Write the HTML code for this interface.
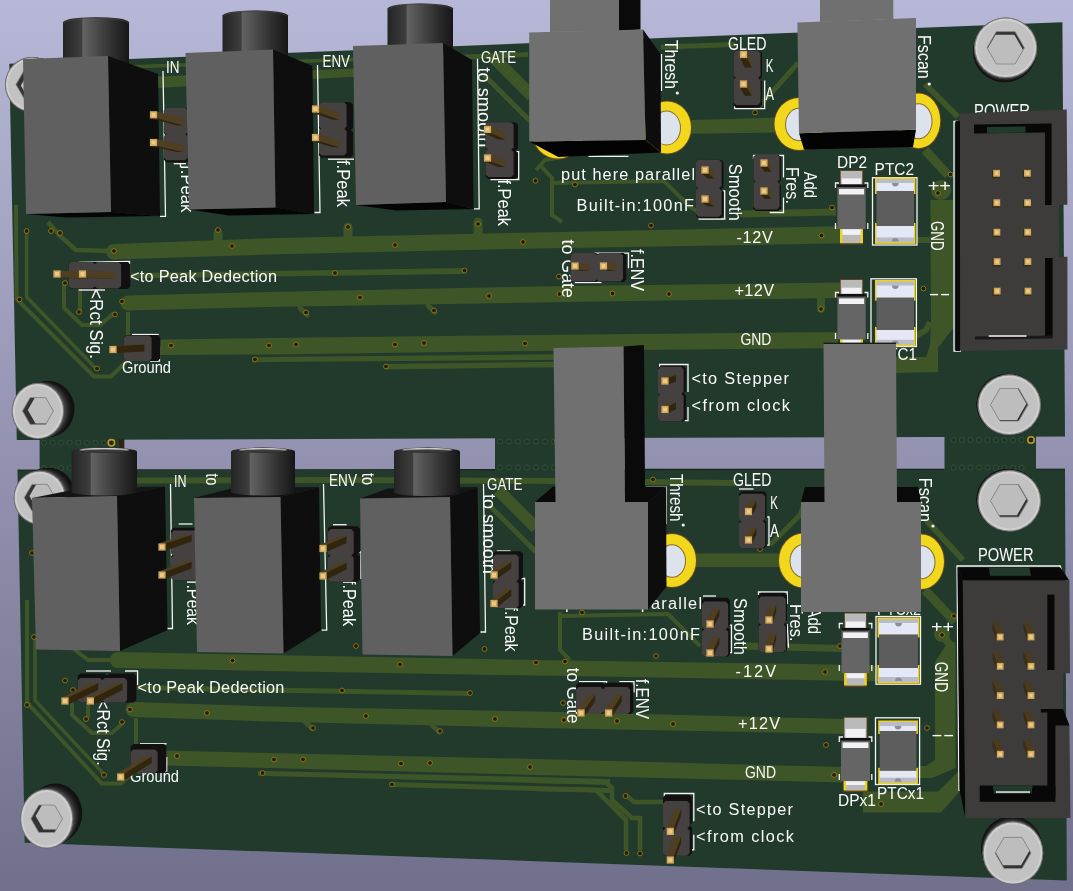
<!DOCTYPE html>
<html lang="en"><head><meta charset="utf-8"><title>PCB 3D view</title>
<style>
html,body{margin:0;padding:0;background:#8a8aaa;}
body{width:1073px;height:891px;overflow:hidden;}
svg{display:block;will-change:transform;}
svg text{font-family:"Liberation Sans","DejaVu Sans",sans-serif;fill:#fbfbfb;}
</style></head><body>
<svg width="1073" height="891" viewBox="0 0 1073 891">
<defs>
<linearGradient id="bg" x1="0" y1="0" x2="0" y2="1"><stop offset="0" stop-color="#b7b7d7"/><stop offset="1" stop-color="#70708c"/></linearGradient>
<linearGradient id="cyl" x1="0" y1="0" x2="1" y2="0"><stop offset="0" stop-color="#242424"/><stop offset="0.285" stop-color="#3e3e3e"/><stop offset="0.30" stop-color="#636363"/><stop offset="0.5" stop-color="#4c4c4c"/><stop offset="0.75" stop-color="#2f2f2f"/><stop offset="1" stop-color="#161616"/></linearGradient>
<linearGradient id="cyltop" x1="0" y1="0" x2="0" y2="1"><stop offset="0" stop-color="#e0e0e0"/><stop offset="0.45" stop-color="#9a9a9a"/><stop offset="1" stop-color="#3a3a3a"/></linearGradient>
<radialGradient id="scr" cx="0.5" cy="0.5" r="0.5"><stop offset="0" stop-color="#c0c0c0"/><stop offset="0.85" stop-color="#b4b4b4"/><stop offset="1" stop-color="#9a9a9a"/></radialGradient>
</defs>
<rect width="1073" height="891" fill="url(#bg)"/>
<polygon points="9.3,63.8 1062.4,22.2 1065.0,436.5 16.8,440.0" fill="#213a2c" />
<polygon points="17.5,470.5 1065.0,469.5 1066.8,880.5 24.7,842.8" fill="#213a2c" />
<rect x="39.6" y="438.0" width="78.6" height="34.0" fill="#213a2c" />
<rect x="118.2" y="439.0" width="6.1" height="31.3" fill="#2b2614" />
<rect x="495.0" y="437.0" width="115.0" height="34.0" fill="#213a2c" />
<rect x="944.5" y="435.0" width="91.5" height="36.0" fill="#213a2c" />
<polyline points="17.5,470.2 39.6,470.2" fill="none" stroke="#1a2619" stroke-width="1.3" />
<polyline points="124.3,470.0 495.0,469.6" fill="none" stroke="#1a2619" stroke-width="1.3" />
<polyline points="645.0,469.5 944.5,469.3" fill="none" stroke="#1a2619" stroke-width="1.3" />
<polyline points="1036.0,469.3 1065.0,469.3" fill="none" stroke="#1a2619" stroke-width="1.3" />
<circle cx="44.0" cy="442.8" r="2.6" fill="#1d3627" stroke="#33523a" stroke-width="0.9"/>
<circle cx="52.6" cy="442.8" r="2.6" fill="#1d3627" stroke="#33523a" stroke-width="0.9"/>
<circle cx="61.1" cy="442.8" r="2.6" fill="#1d3627" stroke="#33523a" stroke-width="0.9"/>
<circle cx="69.7" cy="442.8" r="2.6" fill="#1d3627" stroke="#33523a" stroke-width="0.9"/>
<circle cx="78.3" cy="442.8" r="2.6" fill="#1d3627" stroke="#33523a" stroke-width="0.9"/>
<circle cx="86.9" cy="442.8" r="2.6" fill="#1d3627" stroke="#33523a" stroke-width="0.9"/>
<circle cx="95.4" cy="442.8" r="2.6" fill="#1d3627" stroke="#33523a" stroke-width="0.9"/>
<circle cx="104.0" cy="442.8" r="2.6" fill="#1d3627" stroke="#33523a" stroke-width="0.9"/>
<circle cx="44.0" cy="468.0" r="2.6" fill="#1d3627" stroke="#33523a" stroke-width="0.9"/>
<circle cx="52.6" cy="468.0" r="2.6" fill="#1d3627" stroke="#33523a" stroke-width="0.9"/>
<circle cx="61.1" cy="468.0" r="2.6" fill="#1d3627" stroke="#33523a" stroke-width="0.9"/>
<circle cx="69.7" cy="468.0" r="2.6" fill="#1d3627" stroke="#33523a" stroke-width="0.9"/>
<circle cx="78.3" cy="468.0" r="2.6" fill="#1d3627" stroke="#33523a" stroke-width="0.9"/>
<circle cx="86.9" cy="468.0" r="2.6" fill="#1d3627" stroke="#33523a" stroke-width="0.9"/>
<circle cx="95.4" cy="468.0" r="2.6" fill="#1d3627" stroke="#33523a" stroke-width="0.9"/>
<circle cx="104.0" cy="468.0" r="2.6" fill="#1d3627" stroke="#33523a" stroke-width="0.9"/>
<circle cx="500.0" cy="441.5" r="2.6" fill="#1d3627" stroke="#33523a" stroke-width="0.9"/>
<circle cx="509.0" cy="441.5" r="2.6" fill="#1d3627" stroke="#33523a" stroke-width="0.9"/>
<circle cx="518.0" cy="441.5" r="2.6" fill="#1d3627" stroke="#33523a" stroke-width="0.9"/>
<circle cx="527.0" cy="441.5" r="2.6" fill="#1d3627" stroke="#33523a" stroke-width="0.9"/>
<circle cx="536.0" cy="441.5" r="2.6" fill="#1d3627" stroke="#33523a" stroke-width="0.9"/>
<circle cx="545.0" cy="441.5" r="2.6" fill="#1d3627" stroke="#33523a" stroke-width="0.9"/>
<circle cx="554.0" cy="441.5" r="2.6" fill="#1d3627" stroke="#33523a" stroke-width="0.9"/>
<circle cx="500.0" cy="467.5" r="2.6" fill="#1d3627" stroke="#33523a" stroke-width="0.9"/>
<circle cx="509.0" cy="467.5" r="2.6" fill="#1d3627" stroke="#33523a" stroke-width="0.9"/>
<circle cx="518.0" cy="467.5" r="2.6" fill="#1d3627" stroke="#33523a" stroke-width="0.9"/>
<circle cx="527.0" cy="467.5" r="2.6" fill="#1d3627" stroke="#33523a" stroke-width="0.9"/>
<circle cx="536.0" cy="467.5" r="2.6" fill="#1d3627" stroke="#33523a" stroke-width="0.9"/>
<circle cx="545.0" cy="467.5" r="2.6" fill="#1d3627" stroke="#33523a" stroke-width="0.9"/>
<circle cx="554.0" cy="467.5" r="2.6" fill="#1d3627" stroke="#33523a" stroke-width="0.9"/>
<circle cx="953.5" cy="440.0" r="2.6" fill="#1d3627" stroke="#33523a" stroke-width="0.9"/>
<circle cx="962.0" cy="440.0" r="2.6" fill="#1d3627" stroke="#33523a" stroke-width="0.9"/>
<circle cx="970.5" cy="440.0" r="2.6" fill="#1d3627" stroke="#33523a" stroke-width="0.9"/>
<circle cx="979.0" cy="440.0" r="2.6" fill="#1d3627" stroke="#33523a" stroke-width="0.9"/>
<circle cx="987.5" cy="440.0" r="2.6" fill="#1d3627" stroke="#33523a" stroke-width="0.9"/>
<circle cx="996.0" cy="440.0" r="2.6" fill="#1d3627" stroke="#33523a" stroke-width="0.9"/>
<circle cx="1004.5" cy="440.0" r="2.6" fill="#1d3627" stroke="#33523a" stroke-width="0.9"/>
<circle cx="1013.0" cy="440.0" r="2.6" fill="#1d3627" stroke="#33523a" stroke-width="0.9"/>
<circle cx="1021.5" cy="440.0" r="2.6" fill="#1d3627" stroke="#33523a" stroke-width="0.9"/>
<circle cx="953.5" cy="467.7" r="2.6" fill="#1d3627" stroke="#33523a" stroke-width="0.9"/>
<circle cx="962.0" cy="467.7" r="2.6" fill="#1d3627" stroke="#33523a" stroke-width="0.9"/>
<circle cx="970.5" cy="467.7" r="2.6" fill="#1d3627" stroke="#33523a" stroke-width="0.9"/>
<circle cx="979.0" cy="467.7" r="2.6" fill="#1d3627" stroke="#33523a" stroke-width="0.9"/>
<circle cx="987.5" cy="467.7" r="2.6" fill="#1d3627" stroke="#33523a" stroke-width="0.9"/>
<circle cx="996.0" cy="467.7" r="2.6" fill="#1d3627" stroke="#33523a" stroke-width="0.9"/>
<circle cx="1004.5" cy="467.7" r="2.6" fill="#1d3627" stroke="#33523a" stroke-width="0.9"/>
<circle cx="1013.0" cy="467.7" r="2.6" fill="#1d3627" stroke="#33523a" stroke-width="0.9"/>
<circle cx="1021.5" cy="467.7" r="2.6" fill="#1d3627" stroke="#33523a" stroke-width="0.9"/>
<polygon points="114.0,244.0 268.0,238.2 536.0,232.5 804.0,227.0 842.0,226.3 842.0,243.3 804.0,244.0 536.0,248.5 268.0,254.5 114.0,259.5" fill="#3e5528" />
<circle cx="114" cy="251.7" r="7.8" fill="#3e5528"/>
<polygon points="130.0,273.0 268.0,271.0 465.5,268.0 465.5,274.0 268.0,276.5 130.0,278.6" fill="#3e5528" />
<polygon points="128.0,295.5 268.0,292.0 536.0,286.5 804.0,283.0 842.0,282.5 842.0,298.0 804.0,298.5 536.0,302.5 268.0,307.0 128.0,310.5" fill="#3e5528" />
<circle cx="128" cy="303" r="7.5" fill="#3e5528"/>
<polygon points="160.0,339.5 268.0,338.0 536.0,335.0 804.0,332.3 838.0,332.0 838.0,348.0 804.0,348.5 536.0,351.0 268.0,354.5 160.0,355.0" fill="#3e5528" />
<polygon points="252.0,357.2 268.0,357.0 536.0,354.5 560.0,354.2 560.0,359.8 536.0,360.0 268.0,362.0 252.0,362.2" fill="#3e5528" />
<polygon points="385.5,364.0 536.0,362.0 560.0,361.8 560.0,367.3 536.0,367.5 385.5,369.5" fill="#3e5528" />
<polyline points="218.0,233.0 218.0,243.0" fill="none" stroke="#3e5528" stroke-width="9.0" stroke-linecap="round"/>
<polyline points="348.0,227.0 348.0,240.0" fill="none" stroke="#3e5528" stroke-width="9.0" stroke-linecap="round"/>
<polyline points="478.0,222.0 478.0,236.0" fill="none" stroke="#3e5528" stroke-width="9.0" stroke-linecap="round"/>
<polyline points="300.0,308.0 307.0,315.0" fill="none" stroke="#3e5528" stroke-width="5.0" stroke-linecap="round"/>
<polyline points="428.0,305.5 435.0,312.5" fill="none" stroke="#3e5528" stroke-width="5.0" stroke-linecap="round"/>
<polyline points="48.0,222.0 60.0,236.0 76.0,250.0 110.0,251.0" fill="none" stroke="#3e5528" stroke-width="4.5" />
<polyline points="16.0,205.0 16.5,299.0 94.0,376.5 111.0,376.5 128.0,360.0 128.0,312.0" fill="none" stroke="#3e5528" stroke-width="4.0" />
<polyline points="26.6,232.0 26.6,297.0 96.0,368.5" fill="none" stroke="#3e5528" stroke-width="3.5" />
<polyline points="64.0,285.0 64.0,308.0 82.0,325.0 100.0,325.0 114.0,313.0" fill="none" stroke="#3e5528" stroke-width="4.0" />
<polyline points="80.0,288.0 80.0,312.0" fill="none" stroke="#3e5528" stroke-width="4.0" />
<polygon points="130.0,65.0 330.0,58.5 480.0,54.0 528.0,52.0 528.0,57.0 480.0,59.0 330.0,62.0 130.0,68.5" fill="#3e5528" />
<polygon points="158.0,76.5 330.0,69.5 360.0,68.3 360.0,76.5 330.0,78.0 158.0,88.0" fill="#3e5528" />
<polyline points="661.0,47.0 735.0,44.5" fill="none" stroke="#3e5528" stroke-width="5.0" />
<polyline points="492.0,56.0 532.0,96.0" fill="none" stroke="#3e5528" stroke-width="12.0" />
<polyline points="484.0,75.0 532.0,123.0" fill="none" stroke="#3e5528" stroke-width="5.0" />
<polyline points="758.0,108.0 798.0,63.0" fill="none" stroke="#3e5528" stroke-width="5.0" />
<polygon points="691.0,120.0 779.0,117.5 779.0,132.5 691.0,133.8" fill="#3e5528" />
<polyline points="925.0,84.0 958.0,117.0" fill="none" stroke="#3e5528" stroke-width="6.0" />
<polyline points="925.0,150.0 948.0,175.0" fill="none" stroke="#3e5528" stroke-width="9.0" />
<polyline points="540.0,165.0 552.0,178.0 552.0,215.0 562.0,222.0" fill="none" stroke="#3e5528" stroke-width="4.0" />
<polyline points="552.0,183.0 664.0,181.0 690.0,207.0 700.0,213.0" fill="none" stroke="#3e5528" stroke-width="4.0" />
<polyline points="536.0,170.0 545.0,160.0 562.0,157.0" fill="none" stroke="#3e5528" stroke-width="4.0" />
<polygon points="740.0,210.5 836.0,208.5 836.0,215.5 740.0,217.5" fill="#3e5528" />
<circle cx="941" cy="190" r="10" fill="#3e5528"/>
<polygon points="930.4,200.0 953.3,200.0 953.3,328.0 938.0,348.0 938.0,372.0 896.0,373.0 896.0,357.0 926.0,357.0 930.0,345.0 931.0,322.0" fill="#3e5528" />
<polyline points="916.0,336.0 926.0,330.0 930.0,322.0" fill="none" stroke="#3e5528" stroke-width="6.0" />
<polyline points="917.0,240.0 931.0,240.0" fill="none" stroke="#3e5528" stroke-width="6.0" />
<polyline points="821.0,299.0 821.0,309.0" fill="none" stroke="#3e5528" stroke-width="8.0" stroke-linecap="round"/>
<polygon points="118.0,652.0 268.0,655.0 536.0,660.0 804.0,664.0 880.0,665.5 880.0,681.5 804.0,680.0 536.0,675.6 268.0,671.0 118.0,668.0" fill="#3e5528" />
<circle cx="118" cy="660" r="8" fill="#3e5528"/>
<polygon points="137.0,685.0 268.0,687.5 470.0,691.0 470.0,696.0 268.0,692.5 137.0,690.0" fill="#3e5528" />
<polygon points="133.0,702.0 268.0,706.4 536.0,711.5 804.0,718.0 845.0,719.0 845.0,734.0 804.0,733.0 536.0,728.0 268.0,721.5 133.0,717.0" fill="#3e5528" />
<circle cx="133" cy="709.5" r="7.5" fill="#3e5528"/>
<polygon points="166.0,750.5 268.0,753.0 536.0,759.0 804.0,766.0 842.0,767.0 842.0,782.6 804.0,781.6 536.0,775.0 268.0,768.0 166.0,765.5" fill="#3e5528" />
<polygon points="258.0,770.8 268.0,771.0 536.0,777.0 610.0,779.0 610.0,785.0 536.0,783.0 268.0,776.0 258.0,775.8" fill="#3e5528" />
<polygon points="392.0,782.0 536.0,786.0 610.0,788.0 610.0,793.0 536.0,791.0 392.0,787.0" fill="#3e5528" />
<polyline points="305.0,721.5 312.0,728.5" fill="none" stroke="#3e5528" stroke-width="5.0" stroke-linecap="round"/>
<polyline points="432.0,725.0 439.0,732.0" fill="none" stroke="#3e5528" stroke-width="5.0" stroke-linecap="round"/>
<polyline points="27.0,600.0 27.0,702.5 101.7,783.5 121.0,783.5 136.0,770.0 136.0,718.0" fill="none" stroke="#3e5528" stroke-width="4.0" />
<polyline points="35.0,638.5 35.0,700.4 105.0,775.4" fill="none" stroke="#3e5528" stroke-width="3.5" />
<polyline points="72.0,700.0 72.0,715.0 92.0,733.0 112.0,733.0 124.0,722.0" fill="none" stroke="#3e5528" stroke-width="4.0" />
<polyline points="88.0,702.0 88.0,718.0" fill="none" stroke="#3e5528" stroke-width="4.0" />
<polyline points="70.0,646.0 88.0,660.0 116.0,660.0" fill="none" stroke="#3e5528" stroke-width="4.0" />
<polygon points="696.0,553.5 779.0,553.5 779.0,567.0 696.0,567.0" fill="#3e5528" />
<polygon points="137.0,477.5 330.0,477.0 553.0,478.0 735.0,480.0 735.0,486.0 553.0,484.0 330.0,483.0 137.0,483.5" fill="#3e5528" />
<polyline points="498.0,490.0 536.0,528.0" fill="none" stroke="#3e5528" stroke-width="12.0" />
<polyline points="489.0,505.0 536.0,552.0" fill="none" stroke="#3e5528" stroke-width="5.0" />
<polyline points="770.0,545.0 800.0,515.0 804.0,505.0" fill="none" stroke="#3e5528" stroke-width="5.0" />
<polyline points="926.0,520.0 963.0,560.0" fill="none" stroke="#3e5528" stroke-width="6.0" />
<polyline points="925.0,590.0 955.0,622.0" fill="none" stroke="#3e5528" stroke-width="9.0" />
<polyline points="560.0,612.0 560.0,650.0 570.0,660.0" fill="none" stroke="#3e5528" stroke-width="4.0" />
<polyline points="560.0,616.0 668.0,614.0 700.0,646.0" fill="none" stroke="#3e5528" stroke-width="4.0" />
<polygon points="745.0,642.5 842.0,645.0 842.0,652.0 745.0,649.5" fill="#3e5528" />
<polygon points="935.0,662.0 948.0,642.0 955.5,642.0 955.5,768.0 932.0,778.0 918.0,778.0 918.0,766.0 926.0,766.0 935.0,760.0" fill="#3e5528" />
<circle cx="942" cy="634" r="8" fill="#3e5528"/>
<polyline points="942.0,634.0 952.0,648.0" fill="none" stroke="#3e5528" stroke-width="8.0" />
<polygon points="863.0,791.5 938.0,791.5 960.0,770.0 960.0,791.0 941.0,812.5 863.0,812.5" fill="#3e5528" />
<polyline points="536.0,781.0 606.0,782.0 612.0,788.0 612.0,800.0 632.0,818.0 640.0,818.0 640.0,850.0" fill="none" stroke="#3e5528" stroke-width="4.6" />
<polyline points="536.0,789.0 596.0,790.0 626.0,820.0 626.0,850.0" fill="none" stroke="#3e5528" stroke-width="4.6" />
<polyline points="626.0,795.0 634.0,802.0 663.0,802.0" fill="none" stroke="#3e5528" stroke-width="4.6" />
<circle cx="26.6" cy="231.0" r="2.4" fill="#241b08" stroke="#a58c18" stroke-width="0.75"/>
<circle cx="51.0" cy="231.0" r="2.4" fill="#241b08" stroke="#a58c18" stroke-width="0.75"/>
<circle cx="60.0" cy="233.0" r="2.4" fill="#241b08" stroke="#a58c18" stroke-width="0.75"/>
<circle cx="114.0" cy="251.0" r="2.4" fill="#241b08" stroke="#a58c18" stroke-width="0.75"/>
<circle cx="218.0" cy="230.0" r="2.4" fill="#241b08" stroke="#a58c18" stroke-width="0.75"/>
<circle cx="348.0" cy="227.0" r="2.4" fill="#241b08" stroke="#a58c18" stroke-width="0.75"/>
<circle cx="478.0" cy="224.0" r="2.4" fill="#241b08" stroke="#a58c18" stroke-width="0.75"/>
<circle cx="395.0" cy="245.0" r="2.4" fill="#241b08" stroke="#a58c18" stroke-width="0.75"/>
<circle cx="523.0" cy="242.0" r="2.4" fill="#241b08" stroke="#a58c18" stroke-width="0.75"/>
<circle cx="651.0" cy="225.5" r="2.4" fill="#241b08" stroke="#a58c18" stroke-width="0.75"/>
<circle cx="65.0" cy="283.0" r="2.4" fill="#241b08" stroke="#a58c18" stroke-width="0.75"/>
<circle cx="19.5" cy="299.5" r="2.4" fill="#241b08" stroke="#a58c18" stroke-width="0.75"/>
<circle cx="79.0" cy="312.0" r="2.4" fill="#241b08" stroke="#a58c18" stroke-width="0.75"/>
<circle cx="115.0" cy="314.5" r="2.4" fill="#241b08" stroke="#a58c18" stroke-width="0.75"/>
<circle cx="122.0" cy="301.5" r="2.4" fill="#241b08" stroke="#a58c18" stroke-width="0.75"/>
<circle cx="335.0" cy="273.0" r="2.4" fill="#241b08" stroke="#a58c18" stroke-width="0.75"/>
<circle cx="464.5" cy="270.5" r="2.4" fill="#241b08" stroke="#a58c18" stroke-width="0.75"/>
<circle cx="360.0" cy="297.5" r="2.4" fill="#241b08" stroke="#a58c18" stroke-width="0.75"/>
<circle cx="489.0" cy="296.0" r="2.4" fill="#241b08" stroke="#a58c18" stroke-width="0.75"/>
<circle cx="306.0" cy="312.5" r="2.4" fill="#241b08" stroke="#a58c18" stroke-width="0.75"/>
<circle cx="434.0" cy="310.5" r="2.4" fill="#241b08" stroke="#a58c18" stroke-width="0.75"/>
<circle cx="171.0" cy="345.5" r="2.4" fill="#241b08" stroke="#a58c18" stroke-width="0.75"/>
<circle cx="255.0" cy="359.5" r="2.4" fill="#241b08" stroke="#a58c18" stroke-width="0.75"/>
<circle cx="269.0" cy="345.5" r="2.4" fill="#241b08" stroke="#a58c18" stroke-width="0.75"/>
<circle cx="296.0" cy="344.5" r="2.4" fill="#241b08" stroke="#a58c18" stroke-width="0.75"/>
<circle cx="395.0" cy="344.5" r="2.4" fill="#241b08" stroke="#a58c18" stroke-width="0.75"/>
<circle cx="424.0" cy="343.0" r="2.4" fill="#241b08" stroke="#a58c18" stroke-width="0.75"/>
<circle cx="525.0" cy="343.5" r="2.4" fill="#241b08" stroke="#a58c18" stroke-width="0.75"/>
<circle cx="386.0" cy="366.5" r="2.4" fill="#241b08" stroke="#a58c18" stroke-width="0.75"/>
<circle cx="97.0" cy="368.5" r="2.4" fill="#241b08" stroke="#a58c18" stroke-width="0.75"/>
<circle cx="232.0" cy="246.0" r="2.4" fill="#241b08" stroke="#a58c18" stroke-width="0.75"/>
<circle cx="535.5" cy="180.8" r="2.4" fill="#241b08" stroke="#a58c18" stroke-width="0.75"/>
<circle cx="559.0" cy="276.5" r="2.4" fill="#241b08" stroke="#a58c18" stroke-width="0.75"/>
<circle cx="559.5" cy="294.0" r="2.4" fill="#241b08" stroke="#a58c18" stroke-width="0.75"/>
<circle cx="612.5" cy="293.5" r="2.4" fill="#241b08" stroke="#a58c18" stroke-width="0.75"/>
<circle cx="669.0" cy="294.0" r="2.4" fill="#241b08" stroke="#a58c18" stroke-width="0.75"/>
<circle cx="575.0" cy="184.5" r="2.4" fill="#241b08" stroke="#a58c18" stroke-width="0.75"/>
<circle cx="557.0" cy="441.0" r="2.4" fill="#241b08" stroke="#a58c18" stroke-width="0.75"/>
<circle cx="755.0" cy="112.5" r="2.4" fill="#241b08" stroke="#a58c18" stroke-width="0.75"/>
<circle cx="821.0" cy="309.0" r="2.4" fill="#241b08" stroke="#a58c18" stroke-width="0.75"/>
<circle cx="821.5" cy="235.5" r="2.4" fill="#241b08" stroke="#a58c18" stroke-width="0.75"/>
<circle cx="832.0" cy="207.5" r="2.4" fill="#241b08" stroke="#a58c18" stroke-width="0.75"/>
<circle cx="950.5" cy="174.5" r="2.4" fill="#241b08" stroke="#a58c18" stroke-width="0.75"/>
<circle cx="938.0" cy="193.0" r="2.4" fill="#241b08" stroke="#a58c18" stroke-width="0.75"/>
<circle cx="923.5" cy="288.5" r="2.4" fill="#241b08" stroke="#a58c18" stroke-width="0.75"/>
<circle cx="111.4" cy="442.8" r="2.4" fill="#241b08" stroke="#a58c18" stroke-width="0.75"/>
<circle cx="1031.0" cy="440.0" r="2.4" fill="#241b08" stroke="#a58c18" stroke-width="0.75"/>
<circle cx="111.4" cy="442.8" r="3.2" fill="#2a200c" stroke="#b89a22" stroke-width="1.6"/>
<circle cx="1031.0" cy="440.0" r="3.2" fill="#2a200c" stroke="#b89a22" stroke-width="1.6"/>
<circle cx="32.0" cy="553.0" r="2.4" fill="#241b08" stroke="#a58c18" stroke-width="0.75"/>
<circle cx="59.0" cy="500.0" r="2.4" fill="#241b08" stroke="#a58c18" stroke-width="0.75"/>
<circle cx="34.0" cy="637.0" r="2.4" fill="#241b08" stroke="#a58c18" stroke-width="0.75"/>
<circle cx="65.0" cy="680.5" r="2.4" fill="#241b08" stroke="#a58c18" stroke-width="0.75"/>
<circle cx="73.0" cy="690.0" r="2.4" fill="#241b08" stroke="#a58c18" stroke-width="0.75"/>
<circle cx="27.0" cy="705.0" r="2.4" fill="#241b08" stroke="#a58c18" stroke-width="0.75"/>
<circle cx="86.0" cy="719.0" r="2.4" fill="#241b08" stroke="#a58c18" stroke-width="0.75"/>
<circle cx="122.0" cy="722.0" r="2.4" fill="#241b08" stroke="#a58c18" stroke-width="0.75"/>
<circle cx="130.0" cy="709.5" r="2.4" fill="#241b08" stroke="#a58c18" stroke-width="0.75"/>
<circle cx="104.0" cy="775.0" r="2.4" fill="#241b08" stroke="#a58c18" stroke-width="0.75"/>
<circle cx="342.0" cy="690.5" r="2.4" fill="#241b08" stroke="#a58c18" stroke-width="0.75"/>
<circle cx="470.0" cy="693.0" r="2.4" fill="#241b08" stroke="#a58c18" stroke-width="0.75"/>
<circle cx="366.0" cy="716.0" r="2.4" fill="#241b08" stroke="#a58c18" stroke-width="0.75"/>
<circle cx="495.0" cy="719.0" r="2.4" fill="#241b08" stroke="#a58c18" stroke-width="0.75"/>
<circle cx="313.0" cy="728.0" r="2.4" fill="#241b08" stroke="#a58c18" stroke-width="0.75"/>
<circle cx="440.0" cy="731.0" r="2.4" fill="#241b08" stroke="#a58c18" stroke-width="0.75"/>
<circle cx="274.0" cy="759.5" r="2.4" fill="#241b08" stroke="#a58c18" stroke-width="0.75"/>
<circle cx="303.0" cy="759.5" r="2.4" fill="#241b08" stroke="#a58c18" stroke-width="0.75"/>
<circle cx="401.0" cy="763.5" r="2.4" fill="#241b08" stroke="#a58c18" stroke-width="0.75"/>
<circle cx="430.0" cy="763.0" r="2.4" fill="#241b08" stroke="#a58c18" stroke-width="0.75"/>
<circle cx="530.0" cy="767.0" r="2.4" fill="#241b08" stroke="#a58c18" stroke-width="0.75"/>
<circle cx="392.0" cy="784.5" r="2.4" fill="#241b08" stroke="#a58c18" stroke-width="0.75"/>
<circle cx="262.6" cy="773.0" r="2.4" fill="#241b08" stroke="#a58c18" stroke-width="0.75"/>
<circle cx="177.0" cy="756.0" r="2.4" fill="#241b08" stroke="#a58c18" stroke-width="0.75"/>
<circle cx="207.0" cy="713.0" r="2.4" fill="#241b08" stroke="#a58c18" stroke-width="0.75"/>
<circle cx="356.0" cy="646.0" r="2.4" fill="#241b08" stroke="#a58c18" stroke-width="0.75"/>
<circle cx="484.5" cy="649.0" r="2.4" fill="#241b08" stroke="#a58c18" stroke-width="0.75"/>
<circle cx="400.0" cy="664.5" r="2.4" fill="#241b08" stroke="#a58c18" stroke-width="0.75"/>
<circle cx="536.0" cy="662.5" r="2.4" fill="#241b08" stroke="#a58c18" stroke-width="0.75"/>
<circle cx="232.5" cy="660.5" r="2.4" fill="#241b08" stroke="#a58c18" stroke-width="0.75"/>
<circle cx="565.0" cy="661.5" r="2.4" fill="#241b08" stroke="#a58c18" stroke-width="0.75"/>
<circle cx="582.0" cy="612.5" r="2.4" fill="#241b08" stroke="#a58c18" stroke-width="0.75"/>
<circle cx="653.0" cy="479.5" r="2.4" fill="#241b08" stroke="#a58c18" stroke-width="0.75"/>
<circle cx="760.0" cy="549.0" r="2.4" fill="#241b08" stroke="#a58c18" stroke-width="0.75"/>
<circle cx="656.0" cy="656.0" r="2.4" fill="#241b08" stroke="#a58c18" stroke-width="0.75"/>
<circle cx="563.0" cy="703.0" r="2.4" fill="#241b08" stroke="#a58c18" stroke-width="0.75"/>
<circle cx="564.0" cy="720.0" r="2.4" fill="#241b08" stroke="#a58c18" stroke-width="0.75"/>
<circle cx="617.0" cy="721.0" r="2.4" fill="#241b08" stroke="#a58c18" stroke-width="0.75"/>
<circle cx="673.0" cy="724.0" r="2.4" fill="#241b08" stroke="#a58c18" stroke-width="0.75"/>
<circle cx="585.0" cy="712.0" r="2.4" fill="#241b08" stroke="#a58c18" stroke-width="0.75"/>
<circle cx="625.5" cy="796.0" r="2.4" fill="#241b08" stroke="#a58c18" stroke-width="0.75"/>
<circle cx="626.5" cy="853.0" r="2.4" fill="#241b08" stroke="#a58c18" stroke-width="0.75"/>
<circle cx="640.0" cy="853.5" r="2.4" fill="#241b08" stroke="#a58c18" stroke-width="0.75"/>
<circle cx="954.0" cy="616.0" r="2.4" fill="#241b08" stroke="#a58c18" stroke-width="0.75"/>
<circle cx="942.0" cy="635.0" r="2.4" fill="#241b08" stroke="#a58c18" stroke-width="0.75"/>
<circle cx="927.0" cy="728.0" r="2.4" fill="#241b08" stroke="#a58c18" stroke-width="0.75"/>
<circle cx="826.0" cy="745.0" r="2.4" fill="#241b08" stroke="#a58c18" stroke-width="0.75"/>
<circle cx="834.0" cy="775.0" r="2.4" fill="#241b08" stroke="#a58c18" stroke-width="0.75"/>
<circle cx="825.0" cy="672.0" r="2.4" fill="#241b08" stroke="#a58c18" stroke-width="0.75"/>
<circle cx="881.0" cy="804.0" r="2.4" fill="#241b08" stroke="#a58c18" stroke-width="0.75"/>
<circle cx="840.0" cy="646.0" r="2.4" fill="#241b08" stroke="#a58c18" stroke-width="0.75"/>
<polyline points="163.0,71.0 165.5,216.3 160.0,216.3" fill="none" stroke="#f4f4f4" stroke-width="1.3" stroke-linejoin="miter"/>
<polyline points="317.5,65.0 320.0,212.5 314.5,212.5" fill="none" stroke="#f4f4f4" stroke-width="1.3" stroke-linejoin="miter"/>
<polyline points="477.5,58.8 479.2,208.8 474.0,208.8" fill="none" stroke="#f4f4f4" stroke-width="1.3" stroke-linejoin="miter"/>
<polyline points="173.7,163.7 186.0,163.7" fill="none" stroke="#f4f4f4" stroke-width="1.3" stroke-linejoin="miter"/>
<polyline points="180.5,163.7 180.5,167.5" fill="none" stroke="#f4f4f4" stroke-width="1.3" stroke-linejoin="miter"/>
<polyline points="328.0,159.2 354.0,159.2" fill="none" stroke="#f4f4f4" stroke-width="1.3" stroke-linejoin="miter"/>
<polyline points="514.0,151.7 518.7,151.7 518.7,179.5 490.5,179.5" fill="none" stroke="#f4f4f4" stroke-width="1.3" stroke-linejoin="miter"/>
<polyline points="661.5,54.0 661.5,91.0" fill="none" stroke="#f4f4f4" stroke-width="1.3" stroke-linejoin="miter"/>
<polyline points="588.5,156.3 628.5,156.3" fill="none" stroke="#f4f4f4" stroke-width="1.3" stroke-linejoin="miter"/>
<polyline points="764.7,80.5 764.7,108.7 734.7,108.7 734.7,105.0" fill="none" stroke="#f4f4f4" stroke-width="1.3" stroke-linejoin="miter"/>
<polyline points="698.5,219.0 724.7,219.0 724.7,191.0 722.0,191.0" fill="none" stroke="#f4f4f4" stroke-width="1.3" stroke-linejoin="miter"/>
<polyline points="753.5,159.0 753.5,155.5 783.5,155.5 783.5,177.5" fill="none" stroke="#f4f4f4" stroke-width="1.3" stroke-linejoin="miter"/>
<polyline points="783.5,197.5 783.5,212.5 769.7,212.5" fill="none" stroke="#f4f4f4" stroke-width="1.3" stroke-linejoin="miter"/>
<rect x="872.5" y="177.7" width="44.5" height="67.3" fill="none" stroke="#f4f4f4" stroke-width="1.3"/>
<rect x="871" y="278.8" width="45.4" height="67.7" fill="none" stroke="#f4f4f4" stroke-width="1.3"/>
<polyline points="835.5,188.0 835.5,183.0 839.0,183.0" fill="none" stroke="#f4f4f4" stroke-width="1.3" stroke-linejoin="miter"/>
<polyline points="864.5,183.0 867.8,183.0 867.8,188.0" fill="none" stroke="#f4f4f4" stroke-width="1.3" stroke-linejoin="miter"/>
<polyline points="835.5,297.5 835.5,292.5 839.0,292.5" fill="none" stroke="#f4f4f4" stroke-width="1.3" stroke-linejoin="miter"/>
<polyline points="864.5,292.5 867.8,292.5 867.8,297.5" fill="none" stroke="#f4f4f4" stroke-width="1.3" stroke-linejoin="miter"/>
<polyline points="835.5,223.0 835.5,229.0" fill="none" stroke="#f4f4f4" stroke-width="1.3" stroke-linejoin="miter"/>
<polyline points="867.8,223.0 867.8,229.0" fill="none" stroke="#f4f4f4" stroke-width="1.3" stroke-linejoin="miter"/>
<polyline points="835.5,333.0 835.5,339.0" fill="none" stroke="#f4f4f4" stroke-width="1.3" stroke-linejoin="miter"/>
<polyline points="867.8,333.0 867.8,339.0" fill="none" stroke="#f4f4f4" stroke-width="1.3" stroke-linejoin="miter"/>
<polyline points="958.0,121.5 954.0,121.5 954.0,351.0 961.0,351.0" fill="none" stroke="#f4f4f4" stroke-width="1.3" stroke-linejoin="miter"/>
<polyline points="78.7,262.3 129.5,261.5 129.5,273.0" fill="none" stroke="#f4f4f4" stroke-width="1.3" stroke-linejoin="miter"/>
<polyline points="78.7,290.0 105.0,290.0" fill="none" stroke="#f4f4f4" stroke-width="1.3" stroke-linejoin="miter"/>
<polyline points="132.0,334.5 158.7,334.5" fill="none" stroke="#f4f4f4" stroke-width="1.3" stroke-linejoin="miter"/>
<polyline points="159.5,347.0 159.5,361.2 150.0,361.2" fill="none" stroke="#f4f4f4" stroke-width="1.3" stroke-linejoin="miter"/>
<polyline points="659.7,368.0 659.7,364.5 688.0,364.5 688.0,392.0" fill="none" stroke="#f4f4f4" stroke-width="1.3" stroke-linejoin="miter"/>
<polyline points="688.0,407.0 688.0,420.7 684.7,420.7" fill="none" stroke="#f4f4f4" stroke-width="1.3" stroke-linejoin="miter"/>
<polyline points="594.7,253.2 628.5,253.2 628.5,268.2" fill="none" stroke="#f4f4f4" stroke-width="1.3" stroke-linejoin="miter"/>
<polyline points="574.7,282.5 601.5,282.5" fill="none" stroke="#f4f4f4" stroke-width="1.3" stroke-linejoin="miter"/>
<circle cx="677.3" cy="93" r="1.6" fill="#f4f4f4"/>
<circle cx="929.3" cy="84" r="1.6" fill="#f4f4f4"/>
<polyline points="170.5,484.0 172.5,628.5 167.0,628.5" fill="none" stroke="#f4f4f4" stroke-width="1.3" stroke-linejoin="miter"/>
<polyline points="323.5,484.0 326.7,630.2 321.7,630.2" fill="none" stroke="#f4f4f4" stroke-width="1.3" stroke-linejoin="miter"/>
<polyline points="483.5,484.0 485.5,632.0 480.5,632.0" fill="none" stroke="#f4f4f4" stroke-width="1.3" stroke-linejoin="miter"/>
<polyline points="178.7,524.0 192.5,524.0" fill="none" stroke="#f4f4f4" stroke-width="1.3" stroke-linejoin="miter"/>
<polyline points="333.0,524.7 346.7,524.7" fill="none" stroke="#f4f4f4" stroke-width="1.3" stroke-linejoin="miter"/>
<polyline points="358.0,552.0 361.0,552.0 361.0,579.0" fill="none" stroke="#f4f4f4" stroke-width="1.3" stroke-linejoin="miter"/>
<polyline points="496.7,551.0 510.5,551.0" fill="none" stroke="#f4f4f4" stroke-width="1.3" stroke-linejoin="miter"/>
<polyline points="520.5,578.5 524.7,578.5 524.7,605.2 520.5,605.2" fill="none" stroke="#f4f4f4" stroke-width="1.3" stroke-linejoin="miter"/>
<polyline points="646.0,487.0 666.0,487.0 666.0,524.0" fill="none" stroke="#f4f4f4" stroke-width="1.3" stroke-linejoin="miter"/>
<polyline points="739.0,489.0 753.5,489.0" fill="none" stroke="#f4f4f4" stroke-width="1.3" stroke-linejoin="miter"/>
<polyline points="767.2,517.0 769.0,517.0 769.0,545.2 767.2,545.2" fill="none" stroke="#f4f4f4" stroke-width="1.3" stroke-linejoin="miter"/>
<polyline points="703.0,596.0 716.0,596.0" fill="none" stroke="#f4f4f4" stroke-width="1.3" stroke-linejoin="miter"/>
<polyline points="729.7,625.2 731.5,625.2 731.5,652.7 729.7,652.7" fill="none" stroke="#f4f4f4" stroke-width="1.3" stroke-linejoin="miter"/>
<polyline points="758.5,595.0 758.5,592.0 787.2,592.0 787.2,604.0" fill="none" stroke="#f4f4f4" stroke-width="1.3" stroke-linejoin="miter"/>
<polyline points="787.2,624.0 788.5,647.7" fill="none" stroke="#f4f4f4" stroke-width="1.3" stroke-linejoin="miter"/>
<polyline points="963.0,790.4 959.0,790.4 957.0,566.0 1060.3,566.0 1062.0,574.0" fill="none" stroke="#f4f4f4" stroke-width="1.3" stroke-linejoin="miter"/>
<rect x="875.5" y="717.8" width="44.1" height="66.7" fill="none" stroke="#f4f4f4" stroke-width="1.3"/>
<rect x="876" y="616.5" width="44.5" height="67.7" fill="none" stroke="#f4f4f4" stroke-width="1.3"/>
<polyline points="839.3,628.5 839.3,623.5 843.0,623.5" fill="none" stroke="#f4f4f4" stroke-width="1.3" stroke-linejoin="miter"/>
<polyline points="868.5,623.5 871.8,623.5 871.8,628.5" fill="none" stroke="#f4f4f4" stroke-width="1.3" stroke-linejoin="miter"/>
<polyline points="839.3,742.0 839.3,737.0 843.0,737.0" fill="none" stroke="#f4f4f4" stroke-width="1.3" stroke-linejoin="miter"/>
<polyline points="868.5,737.0 871.8,737.0 871.8,742.0" fill="none" stroke="#f4f4f4" stroke-width="1.3" stroke-linejoin="miter"/>
<polyline points="839.3,665.0 839.3,671.0" fill="none" stroke="#f4f4f4" stroke-width="1.3" stroke-linejoin="miter"/>
<polyline points="871.8,665.0 871.8,671.0" fill="none" stroke="#f4f4f4" stroke-width="1.3" stroke-linejoin="miter"/>
<polyline points="839.3,774.0 839.3,780.0" fill="none" stroke="#f4f4f4" stroke-width="1.3" stroke-linejoin="miter"/>
<polyline points="871.8,774.0 871.8,780.0" fill="none" stroke="#f4f4f4" stroke-width="1.3" stroke-linejoin="miter"/>
<polyline points="86.0,671.0 111.0,671.0" fill="none" stroke="#f4f4f4" stroke-width="1.3" stroke-linejoin="miter"/>
<polyline points="125.0,671.0 137.6,671.0 137.6,685.0" fill="none" stroke="#f4f4f4" stroke-width="1.3" stroke-linejoin="miter"/>
<polyline points="140.0,743.8 166.7,743.8" fill="none" stroke="#f4f4f4" stroke-width="1.3" stroke-linejoin="miter"/>
<polyline points="166.7,757.0 166.7,770.8 162.0,770.8" fill="none" stroke="#f4f4f4" stroke-width="1.3" stroke-linejoin="miter"/>
<polyline points="664.3,797.0 664.3,793.5 693.8,793.5 693.8,821.3" fill="none" stroke="#f4f4f4" stroke-width="1.3" stroke-linejoin="miter"/>
<polyline points="693.8,834.7 693.8,849.8 690.5,849.8" fill="none" stroke="#f4f4f4" stroke-width="1.3" stroke-linejoin="miter"/>
<polyline points="579.0,681.7 606.7,681.7 606.7,685.0" fill="none" stroke="#f4f4f4" stroke-width="1.3" stroke-linejoin="miter"/>
<polyline points="619.3,681.7 634.0,681.7 634.0,692.5" fill="none" stroke="#f4f4f4" stroke-width="1.3" stroke-linejoin="miter"/>
<circle cx="683.2" cy="525" r="1.6" fill="#f4f4f4"/>
<circle cx="933" cy="526" r="1.6" fill="#f4f4f4"/>
<text x="166.0" y="72.7" font-size="16.3" textLength="13.5" lengthAdjust="spacingAndGlyphs" >IN</text>
<text x="322.5" y="67.0" font-size="16.3" textLength="27.5" lengthAdjust="spacingAndGlyphs" >ENV</text>
<text x="481.0" y="62.5" font-size="16.3" textLength="35.0" lengthAdjust="spacingAndGlyphs" >GATE</text>
<text x="728.0" y="49.5" font-size="17.6" textLength="38.5" lengthAdjust="spacingAndGlyphs" >GLED</text>
<text x="765.8" y="72.0" font-size="17.6" textLength="7.7" lengthAdjust="spacingAndGlyphs" >K</text>
<text x="765.5" y="100.0" font-size="17.6" textLength="8.5" lengthAdjust="spacingAndGlyphs" >A</text>
<text x="974.0" y="117.0" font-size="17.8" textLength="56.0" lengthAdjust="spacingAndGlyphs" >POWER</text>
<text x="561.0" y="179.5" font-size="16.3" textLength="134.0" lengthAdjust="spacing" >put here parallel</text>
<text x="576.5" y="211.0" font-size="16.3" textLength="117.5" lengthAdjust="spacing" >Built-in:100nF</text>
<text x="837.0" y="168.3" font-size="16.3" textLength="30.0" lengthAdjust="spacingAndGlyphs" >DP2</text>
<text x="874.6" y="174.5" font-size="17.4" textLength="39.4" lengthAdjust="spacingAndGlyphs" >PTC2</text>
<text x="927.7" y="190.5" font-size="16.3" textLength="23.3" lengthAdjust="spacingAndGlyphs" >++</text>
<text x="928.5" y="299.2" font-size="16.3" textLength="22.1" lengthAdjust="spacingAndGlyphs" >--</text>
<text x="736.4" y="243.0" font-size="16.3" textLength="36.4" lengthAdjust="spacing" >-12V</text>
<text x="734.5" y="296.4" font-size="16.3" textLength="39.5" lengthAdjust="spacing" >+12V</text>
<text x="740.4" y="344.5" font-size="16.3" textLength="31.0" lengthAdjust="spacingAndGlyphs" >GND</text>
<text x="878.0" y="360.4" font-size="17.4" textLength="39.0" lengthAdjust="spacingAndGlyphs" >PTC1</text>
<text x="838.0" y="366.0" font-size="16.3" textLength="30.0" lengthAdjust="spacingAndGlyphs" >DP1</text>
<text x="130.0" y="281.5" font-size="16.3" textLength="147.0" lengthAdjust="spacing" >&lt;to Peak Dedection</text>
<text x="122.0" y="373.0" font-size="16.3" textLength="49.0" lengthAdjust="spacingAndGlyphs" >Ground</text>
<text x="691.5" y="384.0" font-size="16.3" textLength="97.5" lengthAdjust="spacing" >&lt;to Stepper</text>
<text x="691.5" y="411.0" font-size="16.3" textLength="98.5" lengthAdjust="spacing" >&lt;from clock</text>
<text x="174.0" y="486.5" font-size="16.3" textLength="12.5" lengthAdjust="spacingAndGlyphs" >IN</text>
<text x="329.0" y="486.0" font-size="16.3" textLength="28.0" lengthAdjust="spacingAndGlyphs" >ENV</text>
<text x="487.0" y="489.5" font-size="16.3" textLength="35.5" lengthAdjust="spacingAndGlyphs" >GATE</text>
<text x="733.0" y="486.0" font-size="17.6" textLength="38.5" lengthAdjust="spacingAndGlyphs" >GLED</text>
<text x="770.3" y="509.0" font-size="17.6" textLength="7.7" lengthAdjust="spacingAndGlyphs" >K</text>
<text x="770.0" y="536.5" font-size="17.6" textLength="9.0" lengthAdjust="spacingAndGlyphs" >A</text>
<text x="978.0" y="561.0" font-size="17.8" textLength="55.5" lengthAdjust="spacingAndGlyphs" >POWER</text>
<text x="565.0" y="609.0" font-size="16.3" textLength="137.0" lengthAdjust="spacing" >put here parallel</text>
<text x="582.0" y="640.0" font-size="16.3" textLength="118.0" lengthAdjust="spacing" >Built-in:100nF</text>
<text x="840.0" y="609.0" font-size="16.3" textLength="37.0" lengthAdjust="spacingAndGlyphs" >DPx2</text>
<text x="877.0" y="615.0" font-size="17.4" textLength="44.0" lengthAdjust="spacingAndGlyphs" >PTCx2</text>
<text x="838.0" y="805.6" font-size="16.3" textLength="38.0" lengthAdjust="spacingAndGlyphs" >DPx1</text>
<text x="877.0" y="798.6" font-size="17.4" textLength="47.0" lengthAdjust="spacingAndGlyphs" >PTCx1</text>
<text x="931.0" y="632.0" font-size="16.3" textLength="23.0" lengthAdjust="spacingAndGlyphs" >++</text>
<text x="931.0" y="739.6" font-size="16.3" textLength="23.7" lengthAdjust="spacingAndGlyphs" >--</text>
<text x="735.5" y="676.6" font-size="16.3" textLength="40.5" lengthAdjust="spacing" >-12V</text>
<text x="738.0" y="729.0" font-size="16.3" textLength="42.0" lengthAdjust="spacing" >+12V</text>
<text x="745.0" y="777.6" font-size="16.3" textLength="31.0" lengthAdjust="spacingAndGlyphs" >GND</text>
<text x="137.6" y="692.5" font-size="16.3" textLength="146.8" lengthAdjust="spacing" >&lt;to Peak Dedection</text>
<text x="130.0" y="782.0" font-size="16.3" textLength="49.0" lengthAdjust="spacingAndGlyphs" >Ground</text>
<text x="696.0" y="815.0" font-size="16.3" textLength="97.0" lengthAdjust="spacing" >&lt;to Stepper</text>
<text x="696.0" y="842.0" font-size="16.3" textLength="98.0" lengthAdjust="spacing" >&lt;from clock</text>
<text transform="translate(180.5,165.0) rotate(90)" font-size="19.0" textLength="47.5" lengthAdjust="spacingAndGlyphs" >f.Peak</text>
<text transform="translate(336.7,160.0) rotate(90)" font-size="19.0" textLength="47.0" lengthAdjust="spacingAndGlyphs" >f.Peak</text>
<text transform="translate(497.5,179.5) rotate(90)" font-size="19.0" textLength="46.5" lengthAdjust="spacingAndGlyphs" >f.Peak</text>
<text transform="translate(478.0,67.5) rotate(90)" font-size="19.0" textLength="80.0" lengthAdjust="spacingAndGlyphs" >to smooth</text>
<text transform="translate(664.7,40.0) rotate(90)" font-size="19.0" textLength="49.0" lengthAdjust="spacingAndGlyphs" >Thresh</text>
<text transform="translate(917.5,35.0) rotate(90)" font-size="19.0" textLength="43.8" lengthAdjust="spacingAndGlyphs" >Fscan</text>
<text transform="translate(729.3,163.7) rotate(90)" font-size="19.0" textLength="57.1" lengthAdjust="spacingAndGlyphs" >Smooth</text>
<text transform="translate(786.0,167.0) rotate(90)" font-size="19.0" textLength="37.0" lengthAdjust="spacingAndGlyphs" >Fres.</text>
<text transform="translate(803.7,171.8) rotate(90)" font-size="19.0" textLength="26.2" lengthAdjust="spacingAndGlyphs" >Add</text>
<text transform="translate(931.0,221.0) rotate(90)" font-size="19.0" textLength="29.5" lengthAdjust="spacingAndGlyphs" >GND</text>
<text transform="translate(562.0,239.5) rotate(90)" font-size="19.0" textLength="58.5" lengthAdjust="spacingAndGlyphs" >to Gate</text>
<text transform="translate(630.5,249.0) rotate(90)" font-size="19.0" textLength="42.0" lengthAdjust="spacingAndGlyphs" >f.ENV</text>
<text transform="translate(89.5,289.0) rotate(90)" font-size="19.0" textLength="70.0" lengthAdjust="spacingAndGlyphs" >&lt;Rct Sig.</text>
<text transform="translate(205.5,473.5) rotate(90)" font-size="19.0" textLength="11.8" lengthAdjust="spacingAndGlyphs" >to</text>
<text transform="translate(362.0,473.0) rotate(90)" font-size="19.0" textLength="12.0" lengthAdjust="spacingAndGlyphs" >to</text>
<text transform="translate(187.0,580.0) rotate(90)" font-size="19.0" textLength="45.0" lengthAdjust="spacingAndGlyphs" >f.Peak</text>
<text transform="translate(343.0,580.0) rotate(90)" font-size="19.0" textLength="46.0" lengthAdjust="spacingAndGlyphs" >f.Peak</text>
<text transform="translate(504.5,606.5) rotate(90)" font-size="19.0" textLength="45.0" lengthAdjust="spacingAndGlyphs" >f.Peak</text>
<text transform="translate(482.5,494.0) rotate(90)" font-size="19.0" textLength="80.0" lengthAdjust="spacingAndGlyphs" >to smooth</text>
<text transform="translate(669.7,474.0) rotate(90)" font-size="19.0" textLength="47.5" lengthAdjust="spacingAndGlyphs" >Thresh</text>
<text transform="translate(918.5,477.7) rotate(90)" font-size="19.0" textLength="44.3" lengthAdjust="spacingAndGlyphs" >Fscan</text>
<text transform="translate(733.5,598.0) rotate(90)" font-size="19.0" textLength="57.0" lengthAdjust="spacingAndGlyphs" >Smooth</text>
<text transform="translate(789.7,604.0) rotate(90)" font-size="19.0" textLength="37.5" lengthAdjust="spacingAndGlyphs" >Fres.</text>
<text transform="translate(807.7,607.5) rotate(90)" font-size="19.0" textLength="26.5" lengthAdjust="spacingAndGlyphs" >Add</text>
<text transform="translate(934.5,661.7) rotate(90)" font-size="19.0" textLength="30.3" lengthAdjust="spacingAndGlyphs" >GND</text>
<text transform="translate(566.5,667.7) rotate(90)" font-size="19.0" textLength="55.7" lengthAdjust="spacingAndGlyphs" >to Gate</text>
<text transform="translate(635.5,679.0) rotate(90)" font-size="19.0" textLength="40.0" lengthAdjust="spacingAndGlyphs" >f.ENV</text>
<text transform="translate(97.4,700.0) rotate(90)" font-size="19.0" textLength="65.7" lengthAdjust="spacingAndGlyphs" >&lt;Rct Sig.</text>
<ellipse cx="558.0" cy="131.0" rx="27.0" ry="28.5" fill="#6b4a1e" />
<ellipse cx="558.0" cy="131.0" rx="26.0" ry="27.5" fill="#f2d81c" />
<ellipse cx="558.0" cy="131.5" rx="14.5" ry="17.5" fill="#8a6a30" />
<ellipse cx="558.0" cy="131.5" rx="13.5" ry="16.5" fill="#dde3ec" />
<ellipse cx="667.0" cy="127.5" rx="25.0" ry="27.0" fill="#6b4a1e" />
<ellipse cx="667.0" cy="127.5" rx="24.0" ry="26.0" fill="#f2d81c" />
<ellipse cx="666.5" cy="128.0" rx="14.5" ry="17.5" fill="#8a6a30" />
<ellipse cx="666.5" cy="128.0" rx="13.5" ry="16.5" fill="#dde3ec" />
<ellipse cx="799.0" cy="124.0" rx="25.5" ry="27.0" fill="#6b4a1e" />
<ellipse cx="799.0" cy="124.0" rx="24.5" ry="26.0" fill="#f2d81c" />
<ellipse cx="799.0" cy="124.5" rx="14.0" ry="16.7" fill="#8a6a30" />
<ellipse cx="799.0" cy="124.5" rx="13.0" ry="15.7" fill="#dde3ec" />
<ellipse cx="918.5" cy="120.8" rx="22.7" ry="28.4" fill="#6b4a1e" />
<ellipse cx="918.5" cy="120.8" rx="21.7" ry="27.4" fill="#f2d81c" />
<ellipse cx="918.5" cy="121.3" rx="14.0" ry="18.0" fill="#8a6a30" />
<ellipse cx="918.5" cy="121.3" rx="13.0" ry="17.0" fill="#dde3ec" />
<ellipse cx="672.0" cy="560.5" rx="25.0" ry="27.5" fill="#6b4a1e" />
<ellipse cx="672.0" cy="560.5" rx="24.0" ry="26.5" fill="#f2d81c" />
<ellipse cx="672.0" cy="561.0" rx="14.0" ry="16.8" fill="#8a6a30" />
<ellipse cx="672.0" cy="561.0" rx="13.0" ry="15.8" fill="#dde3ec" />
<ellipse cx="803.5" cy="560.5" rx="25.5" ry="28.0" fill="#6b4a1e" />
<ellipse cx="803.5" cy="560.5" rx="24.5" ry="27.0" fill="#f2d81c" />
<ellipse cx="803.5" cy="561.0" rx="14.0" ry="17.0" fill="#8a6a30" />
<ellipse cx="803.5" cy="561.0" rx="13.0" ry="16.0" fill="#dde3ec" />
<ellipse cx="921.5" cy="561.7" rx="23.5" ry="28.3" fill="#6b4a1e" />
<ellipse cx="921.5" cy="561.7" rx="22.5" ry="27.3" fill="#f2d81c" />
<ellipse cx="921.5" cy="562.2" rx="14.0" ry="17.0" fill="#8a6a30" />
<ellipse cx="921.5" cy="562.2" rx="13.0" ry="16.0" fill="#dde3ec" />
<rect x="840.0" y="170.2" width="23.0" height="16.3" fill="#6b4a20" />
<rect x="840.8" y="171.0" width="21.4" height="15.5" fill="#b9b9b9" />
<rect x="841.8" y="178.4" width="19.4" height="5.6" fill="#f2f2f6" />
<rect x="840.0" y="228.0" width="23.0" height="16.5" fill="#6b4a20" />
<rect x="840.0" y="228.0" width="23.0" height="15.1" fill="#f0d21c" />
<rect x="842.4" y="228.0" width="18.2" height="14.9" fill="#b9b9b9" />
<rect x="842.4" y="229.3" width="18.2" height="5.6" fill="#f2f2f6" />
<rect x="837.4" y="184.5" width="28.3" height="44.5" fill="#656565" />
<rect x="837.4" y="184.5" width="28.3" height="2.6" fill="#101010" />
<rect x="839.0" y="188.9" width="25.1" height="5.6" fill="#f2f2f6" />
<rect x="875.0" y="177.5" width="40.5" height="16.5" fill="#f0d21c" />
<rect x="875.0" y="223.0" width="40.5" height="20.9" fill="#f0d21c" />
<rect x="876.5" y="179.0" width="37.5" height="12.0" fill="#b9bcc6" />
<rect x="876.5" y="183.0" width="37.5" height="8.0" fill="#e4e8f6" />
<rect x="876.5" y="226.0" width="37.5" height="16.4" fill="#b9bcc6" />
<rect x="876.5" y="226.0" width="37.5" height="11.4" fill="#e4e8f6" />
<rect x="876.5" y="191.0" width="37.5" height="35.0" fill="#5d5d5d" />
<path d="M891.9 183.0 a3.4 3.4 0 0 0 6.8 0z" fill="#8e8e94"/>
<path d="M891.9 241.4 a3.4 3.4 0 0 1 6.8 0z" fill="#8e8e94"/>
<rect x="840.0" y="279.2" width="23.0" height="16.8" fill="#6b4a20" />
<rect x="840.8" y="280.0" width="21.4" height="16.0" fill="#b9b9b9" />
<rect x="841.8" y="287.7" width="19.4" height="5.8" fill="#f2f2f6" />
<rect x="840.0" y="338.4" width="23.0" height="13.4" fill="#6b4a20" />
<rect x="840.0" y="338.4" width="23.0" height="12.0" fill="#f0d21c" />
<rect x="842.4" y="338.4" width="18.2" height="11.8" fill="#b9b9b9" />
<rect x="842.4" y="339.7" width="18.2" height="4.3" fill="#f2f2f6" />
<rect x="837.4" y="294.0" width="28.3" height="45.4" fill="#656565" />
<rect x="837.4" y="294.0" width="28.3" height="2.6" fill="#101010" />
<rect x="839.0" y="298.4" width="25.1" height="5.6" fill="#f2f2f6" />
<rect x="875.0" y="280.0" width="40.5" height="20.6" fill="#f0d21c" />
<rect x="875.0" y="327.0" width="40.5" height="19.3" fill="#f0d21c" />
<rect x="876.5" y="281.5" width="37.5" height="16.1" fill="#b9bcc6" />
<rect x="876.5" y="285.5" width="37.5" height="12.1" fill="#e4e8f6" />
<rect x="876.5" y="330.0" width="37.5" height="14.8" fill="#b9bcc6" />
<rect x="876.5" y="330.0" width="37.5" height="9.8" fill="#e4e8f6" />
<rect x="876.5" y="297.6" width="37.5" height="32.4" fill="#5d5d5d" />
<path d="M891.9 285.5 a3.4 3.4 0 0 0 6.8 0z" fill="#8e8e94"/>
<path d="M891.9 343.8 a3.4 3.4 0 0 1 6.8 0z" fill="#8e8e94"/>
<rect x="844.1" y="612.7" width="22.7" height="17.3" fill="#6b4a20" />
<rect x="844.9" y="613.5" width="21.1" height="16.5" fill="#b9b9b9" />
<rect x="845.9" y="621.5" width="19.1" height="6.0" fill="#f2f2f6" />
<rect x="844.1" y="672.0" width="22.7" height="14.8" fill="#6b4a20" />
<rect x="844.1" y="672.0" width="22.7" height="13.4" fill="#f0d21c" />
<rect x="846.5" y="672.0" width="17.9" height="13.2" fill="#b9b9b9" />
<rect x="846.5" y="673.3" width="17.9" height="4.9" fill="#f2f2f6" />
<rect x="841.5" y="628.0" width="28.0" height="45.0" fill="#656565" />
<rect x="841.5" y="628.0" width="28.0" height="2.6" fill="#101010" />
<rect x="843.1" y="632.4" width="24.8" height="5.6" fill="#f2f2f6" />
<rect x="877.5" y="617.5" width="42.0" height="20.0" fill="#f0d21c" />
<rect x="877.5" y="665.0" width="42.0" height="18.5" fill="#f0d21c" />
<rect x="879.0" y="619.0" width="39.0" height="15.5" fill="#b9bcc6" />
<rect x="879.0" y="623.0" width="39.0" height="11.5" fill="#e4e8f6" />
<rect x="879.0" y="668.0" width="39.0" height="14.0" fill="#b9bcc6" />
<rect x="879.0" y="668.0" width="39.0" height="9.0" fill="#e4e8f6" />
<rect x="879.0" y="634.5" width="39.0" height="33.5" fill="#5d5d5d" />
<path d="M895.1 623.0 a3.4 3.4 0 0 0 6.8 0z" fill="#8e8e94"/>
<path d="M895.1 681.0 a3.4 3.4 0 0 1 6.8 0z" fill="#8e8e94"/>
<rect x="843.6" y="717.0" width="23.7" height="23.0" fill="#6b4a20" />
<rect x="844.4" y="717.8" width="22.1" height="22.2" fill="#b9b9b9" />
<rect x="845.4" y="728.9" width="20.1" height="8.6" fill="#f2f2f6" />
<rect x="843.6" y="780.0" width="23.7" height="11.8" fill="#6b4a20" />
<rect x="843.6" y="780.0" width="23.7" height="10.4" fill="#f0d21c" />
<rect x="846.0" y="780.0" width="18.9" height="10.2" fill="#b9b9b9" />
<rect x="846.0" y="781.3" width="18.9" height="3.7" fill="#f2f2f6" />
<rect x="841.0" y="738.0" width="29.0" height="43.0" fill="#656565" />
<rect x="841.0" y="738.0" width="29.0" height="2.6" fill="#101010" />
<rect x="842.6" y="742.4" width="25.8" height="5.6" fill="#f2f2f6" />
<rect x="878.2" y="720.5" width="39.7" height="13.5" fill="#f0d21c" />
<rect x="878.2" y="767.8" width="39.7" height="16.4" fill="#f0d21c" />
<rect x="879.7" y="722.0" width="36.7" height="9.0" fill="#b9bcc6" />
<rect x="879.7" y="726.0" width="36.7" height="5.0" fill="#e4e8f6" />
<rect x="879.7" y="770.8" width="36.7" height="11.9" fill="#b9bcc6" />
<rect x="879.7" y="770.8" width="36.7" height="6.9" fill="#e4e8f6" />
<rect x="879.7" y="731.0" width="36.7" height="39.8" fill="#5d5d5d" />
<path d="M894.6 726.0 a3.4 3.4 0 0 0 6.8 0z" fill="#8e8e94"/>
<path d="M894.6 781.7 a3.4 3.4 0 0 1 6.8 0z" fill="#8e8e94"/>
<polygon points="71.3,262.0 97.2,262.0 99.8,264.6 99.8,286.4 97.2,289.0 71.3,289.0 68.7,286.4 68.7,264.6" fill="#121010" />
<rect x="71.6" y="264.6" width="55.8" height="21.8" fill="#121010" />
<polygon points="101.8,262.0 127.7,262.0 130.3,264.6 130.3,286.4 127.7,289.0 101.8,289.0 99.2,286.4 99.2,264.6" fill="#121010" />
<rect x="71.6" y="264.6" width="55.8" height="21.8" fill="#121010" />
<polygon points="71.3,262.0 92.6,262.0 95.2,264.6 95.2,286.0 92.6,288.6 71.3,288.6 68.7,286.0 68.7,264.6" fill="#454141" />
<rect x="71.6" y="264.6" width="46.6" height="21.4" fill="#454141" />
<polygon points="97.2,262.0 118.5,262.0 121.1,264.6 121.1,286.0 118.5,288.6 97.2,288.6 94.6,286.0 94.6,264.6" fill="#454141" />
<rect x="71.6" y="264.6" width="46.6" height="21.4" fill="#454141" />
<polygon points="60.4,270.6 60.4,277.4 90.5,278.7 90.5,271.9" fill="#4e3e22" />
<polygon points="53.6,277.4 60.4,277.4 90.5,278.7 83.7,278.7" fill="#31250e" />
<rect x="53.4" y="270.4" width="7.2" height="7.2" fill="#cfa85e" />
<rect x="55.0" y="272.0" width="4.0" height="4.0" fill="#ecca86" />
<polygon points="85.9,270.6 85.9,277.4 115.0,278.7 115.0,271.9" fill="#4e3e22" />
<polygon points="79.1,277.4 85.9,277.4 115.0,278.7 108.2,278.7" fill="#31250e" />
<rect x="78.9" y="270.4" width="7.2" height="7.2" fill="#cfa85e" />
<rect x="80.5" y="272.0" width="4.0" height="4.0" fill="#ecca86" />
<polygon points="126.3,335.0 157.7,335.0 160.3,337.6 160.3,358.4 157.7,361.0 126.3,361.0 123.7,358.4 123.7,337.6" fill="#121010" />
<polygon points="126.3,335.5 149.0,335.5 151.6,338.1 151.6,358.4 149.0,361.0 126.3,361.0 123.7,358.4 123.7,338.1" fill="#454141" />
<polygon points="116.4,346.1 116.4,352.9 144.4,351.4 144.4,344.6" fill="#31250e" />
<polygon points="109.6,346.1 116.4,346.1 144.4,344.6 137.6,344.6" fill="#4e3e22" />
<rect x="109.4" y="345.9" width="7.2" height="7.2" fill="#cfa85e" />
<rect x="111.0" y="347.5" width="4.0" height="4.0" fill="#ecca86" />
<polygon points="736.1,50.7 759.4,50.7 762.0,53.3 762.0,77.0 759.4,79.5 736.1,79.5 733.5,77.0 733.5,53.3" fill="#121010" />
<rect x="736.1" y="53.6" width="23.3" height="51.3" fill="#121010" />
<polygon points="736.1,79.0 759.4,79.0 762.0,81.5 762.0,105.2 759.4,107.8 736.1,107.8 733.5,105.2 733.5,81.5" fill="#121010" />
<rect x="736.1" y="53.6" width="23.3" height="51.3" fill="#121010" />
<polygon points="736.1,50.7 757.9,50.7 760.5,53.3 760.5,75.6 757.9,78.2 736.1,78.2 733.5,75.6 733.5,53.3" fill="#454141" />
<rect x="736.1" y="53.6" width="21.8" height="48.5" fill="#454141" />
<polygon points="736.1,77.6 757.9,77.6 760.5,80.2 760.5,102.4 757.9,105.0 736.1,105.0 733.5,102.4 733.5,80.2" fill="#454141" />
<rect x="736.1" y="53.6" width="21.8" height="48.5" fill="#454141" />
<polygon points="746.9,51.1 746.9,57.9 751.6,67.4 751.6,60.6" fill="#4e3e22" />
<polygon points="740.1,57.9 746.9,57.9 751.6,67.4 744.8,67.4" fill="#31250e" />
<rect x="739.9" y="50.9" width="7.2" height="7.2" fill="#cfa85e" />
<rect x="741.5" y="52.5" width="4.0" height="4.0" fill="#ecca86" />
<polygon points="746.9,80.6 746.9,87.4 751.6,95.8 751.6,89.0" fill="#4e3e22" />
<polygon points="740.1,87.4 746.9,87.4 751.6,95.8 744.8,95.8" fill="#31250e" />
<rect x="739.9" y="80.4" width="7.2" height="7.2" fill="#cfa85e" />
<rect x="741.5" y="82.0" width="4.0" height="4.0" fill="#ecca86" />
<polygon points="698.6,159.7 720.9,159.7 723.5,162.3 723.5,186.7 720.9,189.3 698.6,189.3 696.0,186.7 696.0,162.3" fill="#121010" />
<rect x="698.6" y="162.6" width="22.3" height="52.8" fill="#121010" />
<polygon points="698.6,188.7 720.9,188.7 723.5,191.3 723.5,215.7 720.9,218.3 698.6,218.3 696.0,215.7 696.0,191.3" fill="#121010" />
<rect x="698.6" y="162.6" width="22.3" height="52.8" fill="#121010" />
<polygon points="698.6,159.7 719.0,159.7 721.6,162.3 721.6,186.0 719.0,188.6 698.6,188.6 696.0,186.0 696.0,162.3" fill="#454141" />
<rect x="698.6" y="162.6" width="20.4" height="51.3" fill="#454141" />
<polygon points="698.6,188.0 719.0,188.0 721.6,190.6 721.6,214.2 719.0,216.8 698.6,216.8 696.0,214.2 696.0,190.6" fill="#454141" />
<rect x="698.6" y="162.6" width="20.4" height="51.3" fill="#454141" />
<polygon points="708.4,166.6 708.4,173.4 714.5,178.6 714.5,171.8" fill="#4e3e22" />
<polygon points="701.6,173.4 708.4,173.4 714.5,178.6 707.7,178.6" fill="#31250e" />
<rect x="701.4" y="166.4" width="7.2" height="7.2" fill="#cfa85e" />
<rect x="703.0" y="168.0" width="4.0" height="4.0" fill="#ecca86" />
<polygon points="708.4,195.6 708.4,202.4 714.5,206.5 714.5,199.7" fill="#4e3e22" />
<polygon points="701.6,202.4 708.4,202.4 714.5,206.5 707.7,206.5" fill="#31250e" />
<rect x="701.4" y="195.4" width="7.2" height="7.2" fill="#cfa85e" />
<rect x="703.0" y="197.0" width="4.0" height="4.0" fill="#ecca86" />
<polygon points="756.0,154.5 778.2,154.5 780.8,157.1 780.8,180.4 778.2,183.0 756.0,183.0 753.4,180.4 753.4,157.1" fill="#121010" />
<rect x="756.0" y="157.4" width="22.2" height="50.6" fill="#121010" />
<polygon points="756.0,182.4 778.2,182.4 780.8,185.0 780.8,208.3 778.2,210.9 756.0,210.9 753.4,208.3 753.4,185.0" fill="#121010" />
<rect x="756.0" y="157.4" width="22.2" height="50.6" fill="#121010" />
<polygon points="756.0,154.5 777.0,154.5 779.6,157.1 779.6,179.6 777.0,182.2 756.0,182.2 753.4,179.6 753.4,157.1" fill="#454141" />
<rect x="756.0" y="157.4" width="21.0" height="49.1" fill="#454141" />
<polygon points="756.0,181.6 777.0,181.6 779.6,184.2 779.6,206.8 777.0,209.4 756.0,209.4 753.4,206.8 753.4,184.2" fill="#454141" />
<rect x="756.0" y="157.4" width="21.0" height="49.1" fill="#454141" />
<polygon points="767.4,159.6 767.4,166.4 771.3,171.8 771.3,165.0" fill="#4e3e22" />
<polygon points="760.6,166.4 767.4,166.4 771.3,171.8 764.5,171.8" fill="#31250e" />
<rect x="760.4" y="159.4" width="7.2" height="7.2" fill="#cfa85e" />
<rect x="762.0" y="161.0" width="4.0" height="4.0" fill="#ecca86" />
<polygon points="767.4,187.6 767.4,194.4 771.3,198.8 771.3,192.0" fill="#4e3e22" />
<polygon points="760.6,194.4 767.4,194.4 771.3,198.8 764.5,198.8" fill="#31250e" />
<rect x="760.4" y="187.4" width="7.2" height="7.2" fill="#cfa85e" />
<rect x="762.0" y="189.0" width="4.0" height="4.0" fill="#ecca86" />
<polygon points="573.3,253.0 596.2,253.0 598.8,255.6 598.8,279.4 596.2,282.0 573.3,282.0 570.7,279.4 570.7,255.6" fill="#121010" />
<rect x="573.6" y="255.6" width="49.8" height="23.8" fill="#121010" />
<polygon points="600.8,253.0 623.7,253.0 626.3,255.6 626.3,279.4 623.7,282.0 600.8,282.0 598.2,279.4 598.2,255.6" fill="#121010" />
<rect x="573.6" y="255.6" width="49.8" height="23.8" fill="#121010" />
<polygon points="573.3,253.0 594.6,253.0 597.2,255.6 597.2,278.9 594.6,281.5 573.3,281.5 570.7,278.9 570.7,255.6" fill="#454141" />
<rect x="573.6" y="255.6" width="46.5" height="23.3" fill="#454141" />
<polygon points="599.2,253.0 620.4,253.0 623.0,255.6 623.0,278.9 620.4,281.5 599.2,281.5 596.6,278.9 596.6,255.6" fill="#454141" />
<rect x="573.6" y="255.6" width="46.5" height="23.3" fill="#454141" />
<polygon points="578.4,262.6 578.4,269.4 589.3,271.0 589.3,264.2" fill="#4e3e22" />
<polygon points="571.6,269.4 578.4,269.4 589.3,271.0 582.5,271.0" fill="#31250e" />
<rect x="571.4" y="262.4" width="7.2" height="7.2" fill="#cfa85e" />
<rect x="573.0" y="264.0" width="4.0" height="4.0" fill="#ecca86" />
<polygon points="606.9,262.6 606.9,269.4 616.8,271.0 616.8,264.2" fill="#4e3e22" />
<polygon points="600.1,269.4 606.9,269.4 616.8,271.0 610.0,271.0" fill="#31250e" />
<rect x="599.9" y="262.4" width="7.2" height="7.2" fill="#cfa85e" />
<rect x="601.5" y="264.0" width="4.0" height="4.0" fill="#ecca86" />
<polygon points="660.6,365.7 683.4,365.7 686.0,368.3 686.0,391.2 683.4,393.8 660.6,393.8 658.0,391.2 658.0,368.3" fill="#121010" />
<rect x="660.6" y="368.6" width="22.8" height="49.8" fill="#121010" />
<polygon points="660.6,393.2 683.4,393.2 686.0,395.8 686.0,418.7 683.4,421.3 660.6,421.3 658.0,418.7 658.0,395.8" fill="#121010" />
<rect x="660.6" y="368.6" width="22.8" height="49.8" fill="#121010" />
<polygon points="660.6,366.7 681.0,366.7 683.6,369.3 683.6,391.7 681.0,394.3 660.6,394.3 658.0,391.7 658.0,369.3" fill="#454141" />
<rect x="660.6" y="369.6" width="20.4" height="48.8" fill="#454141" />
<polygon points="660.6,393.7 681.0,393.7 683.6,396.3 683.6,418.7 681.0,421.3 660.6,421.3 658.0,418.7 658.0,396.3" fill="#454141" />
<rect x="660.6" y="369.6" width="20.4" height="48.8" fill="#454141" />
<polygon points="668.4,377.6 668.4,384.4 676.0,381.8 676.0,375.0" fill="#31250e" />
<polygon points="661.6,377.6 668.4,377.6 676.0,375.0 669.2,375.0" fill="#4e3e22" />
<rect x="661.4" y="377.4" width="7.2" height="7.2" fill="#cfa85e" />
<rect x="663.0" y="379.0" width="4.0" height="4.0" fill="#ecca86" />
<polygon points="668.4,406.1 668.4,412.9 676.0,409.2 676.0,402.4" fill="#31250e" />
<polygon points="661.6,406.1 668.4,406.1 676.0,402.4 669.2,402.4" fill="#4e3e22" />
<rect x="661.4" y="405.9" width="7.2" height="7.2" fill="#cfa85e" />
<rect x="663.0" y="407.5" width="4.0" height="4.0" fill="#ecca86" />
<polygon points="741.6,491.2 763.9,491.2 766.5,493.8 766.5,517.4 763.9,520.0 741.6,520.0 739.0,517.4 739.0,493.8" fill="#121010" />
<rect x="741.6" y="494.1" width="22.3" height="51.3" fill="#121010" />
<polygon points="741.6,519.5 763.9,519.5 766.5,522.1 766.5,545.7 763.9,548.3 741.6,548.3 739.0,545.7 739.0,522.1" fill="#121010" />
<rect x="741.6" y="494.1" width="22.3" height="51.3" fill="#121010" />
<polygon points="741.6,493.7 762.5,493.7 765.1,496.3 765.1,518.7 762.5,521.3 741.6,521.3 739.0,518.7 739.0,496.3" fill="#454141" />
<rect x="741.6" y="496.6" width="20.9" height="48.8" fill="#454141" />
<polygon points="741.6,520.7 762.5,520.7 765.1,523.3 765.1,545.7 762.5,548.3 741.6,548.3 739.0,545.7 739.0,523.3" fill="#454141" />
<rect x="741.6" y="496.6" width="20.9" height="48.8" fill="#454141" />
<polygon points="751.9,508.1 751.9,514.9 756.4,507.4 756.4,500.6" fill="#31250e" />
<polygon points="745.1,508.1 751.9,508.1 756.4,500.6 749.6,500.6" fill="#4e3e22" />
<rect x="744.9" y="507.9" width="7.2" height="7.2" fill="#cfa85e" />
<rect x="746.5" y="509.5" width="4.0" height="4.0" fill="#ecca86" />
<polygon points="751.9,536.6 751.9,543.4 756.4,534.9 756.4,528.1" fill="#31250e" />
<polygon points="745.1,536.6 751.9,536.6 756.4,528.1 749.6,528.1" fill="#4e3e22" />
<rect x="744.9" y="536.4" width="7.2" height="7.2" fill="#cfa85e" />
<rect x="746.5" y="538.0" width="4.0" height="4.0" fill="#ecca86" />
<polygon points="704.6,597.7 727.4,597.7 730.0,600.3 730.0,624.9 727.4,627.5 704.6,627.5 702.0,624.9 702.0,600.3" fill="#121010" />
<rect x="704.6" y="600.6" width="22.8" height="53.3" fill="#121010" />
<polygon points="704.6,627.0 727.4,627.0 730.0,629.6 730.0,654.2 727.4,656.8 704.6,656.8 702.0,654.2 702.0,629.6" fill="#121010" />
<rect x="704.6" y="600.6" width="22.8" height="53.3" fill="#121010" />
<polygon points="704.6,601.5 725.6,601.5 728.2,604.1 728.2,626.9 725.6,629.5 704.6,629.5 702.0,626.9 702.0,604.1" fill="#454141" />
<rect x="704.6" y="604.4" width="21.0" height="49.5" fill="#454141" />
<polygon points="704.6,628.9 725.6,628.9 728.2,631.5 728.2,654.2 725.6,656.8 704.6,656.8 702.0,654.2 702.0,631.5" fill="#454141" />
<rect x="704.6" y="604.4" width="21.0" height="49.5" fill="#454141" />
<polygon points="713.4,620.6 713.4,627.4 719.3,615.8 719.3,609.0" fill="#31250e" />
<polygon points="706.6,620.6 713.4,620.6 719.3,609.0 712.5,609.0" fill="#4e3e22" />
<rect x="706.4" y="620.4" width="7.2" height="7.2" fill="#cfa85e" />
<rect x="708.0" y="622.0" width="4.0" height="4.0" fill="#ecca86" />
<polygon points="713.4,649.6 713.4,656.4 719.3,643.7 719.3,636.9" fill="#31250e" />
<polygon points="706.6,649.6 713.4,649.6 719.3,636.9 712.5,636.9" fill="#4e3e22" />
<rect x="706.4" y="649.4" width="7.2" height="7.2" fill="#cfa85e" />
<rect x="708.0" y="651.0" width="4.0" height="4.0" fill="#ecca86" />
<polygon points="761.1,592.7 784.4,592.7 787.0,595.3 787.0,620.2 784.4,622.8 761.1,622.8 758.5,620.2 758.5,595.3" fill="#121010" />
<rect x="761.1" y="595.6" width="23.3" height="53.8" fill="#121010" />
<polygon points="761.1,622.2 784.4,622.2 787.0,624.8 787.0,649.7 784.4,652.3 761.1,652.3 758.5,649.7 758.5,624.8" fill="#121010" />
<rect x="761.1" y="595.6" width="23.3" height="53.8" fill="#121010" />
<polygon points="761.1,596.5 783.2,596.5 785.8,599.1 785.8,622.1 783.2,624.7 761.1,624.7 758.5,622.1 758.5,599.1" fill="#454141" />
<rect x="761.1" y="599.4" width="22.1" height="50.0" fill="#454141" />
<polygon points="761.1,624.1 783.2,624.1 785.8,626.7 785.8,649.7 783.2,652.3 761.1,652.3 758.5,649.7 758.5,626.7" fill="#454141" />
<rect x="761.1" y="599.4" width="22.1" height="50.0" fill="#454141" />
<polygon points="772.4,616.6 772.4,623.4 776.1,611.9 776.1,605.1" fill="#31250e" />
<polygon points="765.6,616.6 772.4,616.6 776.1,605.1 769.3,605.1" fill="#4e3e22" />
<rect x="765.4" y="616.4" width="7.2" height="7.2" fill="#cfa85e" />
<rect x="767.0" y="618.0" width="4.0" height="4.0" fill="#ecca86" />
<polygon points="772.4,645.6 772.4,652.4 776.1,639.9 776.1,633.1" fill="#31250e" />
<polygon points="765.6,645.6 772.4,645.6 776.1,633.1 769.3,633.1" fill="#4e3e22" />
<rect x="765.4" y="645.4" width="7.2" height="7.2" fill="#cfa85e" />
<rect x="767.0" y="647.0" width="4.0" height="4.0" fill="#ecca86" />
<polygon points="578.7,682.4 602.4,682.4 605.0,685.0 605.0,711.4 602.4,714.0 578.7,714.0 576.1,711.4 576.1,685.0" fill="#121010" />
<rect x="579.0" y="685.0" width="51.4" height="26.4" fill="#121010" />
<polygon points="607.0,682.4 630.7,682.4 633.3,685.0 633.3,711.4 630.7,714.0 607.0,714.0 604.4,711.4 604.4,685.0" fill="#121010" />
<rect x="579.0" y="685.0" width="51.4" height="26.4" fill="#121010" />
<polygon points="578.7,687.1 600.8,687.1 603.4,689.7 603.4,711.4 600.8,714.0 578.7,714.0 576.1,711.4 576.1,689.7" fill="#454141" />
<rect x="579.0" y="689.7" width="48.2" height="21.7" fill="#454141" />
<polygon points="605.4,687.1 627.5,687.1 630.1,689.7 630.1,711.4 627.5,714.0 605.4,714.0 602.8,711.4 602.8,689.7" fill="#454141" />
<rect x="579.0" y="689.7" width="48.2" height="21.7" fill="#454141" />
<polygon points="584.4,709.6 584.4,716.4 595.1,701.5 595.1,694.7" fill="#31250e" />
<polygon points="577.6,709.6 584.4,709.6 595.1,694.7 588.3,694.7" fill="#4e3e22" />
<rect x="577.4" y="709.4" width="7.2" height="7.2" fill="#cfa85e" />
<rect x="579.0" y="711.0" width="4.0" height="4.0" fill="#ecca86" />
<polygon points="612.1,709.6 612.1,716.4 621.8,701.5 621.8,694.7" fill="#31250e" />
<polygon points="605.3,709.6 612.1,709.6 621.8,694.7 615.0,694.7" fill="#4e3e22" />
<rect x="605.1" y="709.4" width="7.2" height="7.2" fill="#cfa85e" />
<rect x="606.7" y="711.0" width="4.0" height="4.0" fill="#ecca86" />
<polygon points="665.6,794.7 689.4,794.7 692.0,797.3 692.0,822.9 689.4,825.5 665.6,825.5 663.0,822.9 663.0,797.3" fill="#121010" />
<rect x="665.6" y="797.6" width="23.8" height="55.2" fill="#121010" />
<polygon points="665.6,824.9 689.4,824.9 692.0,827.5 692.0,853.1 689.4,855.7 665.6,855.7 663.0,853.1 663.0,827.5" fill="#121010" />
<rect x="665.6" y="797.6" width="23.8" height="55.2" fill="#121010" />
<polygon points="665.6,800.9 687.1,800.9 689.7,803.5 689.7,826.0 687.1,828.6 665.6,828.6 663.0,826.0 663.0,803.5" fill="#454141" />
<rect x="665.6" y="803.8" width="21.5" height="49.0" fill="#454141" />
<polygon points="665.6,828.0 687.1,828.0 689.7,830.6 689.7,853.1 687.1,855.7 665.6,855.7 663.0,853.1 663.0,830.6" fill="#454141" />
<rect x="665.6" y="803.8" width="21.5" height="49.0" fill="#454141" />
<polygon points="673.7,828.0 673.7,834.8 681.1,815.5 681.1,808.7" fill="#31250e" />
<polygon points="666.9,828.0 673.7,828.0 681.1,808.7 674.3,808.7" fill="#4e3e22" />
<rect x="666.7" y="827.8" width="7.2" height="7.2" fill="#cfa85e" />
<rect x="668.3" y="829.4" width="4.0" height="4.0" fill="#ecca86" />
<polygon points="673.7,856.6 673.7,863.4 681.1,843.0 681.1,836.2" fill="#31250e" />
<polygon points="666.9,856.6 673.7,856.6 681.1,836.2 674.3,836.2" fill="#4e3e22" />
<rect x="666.7" y="856.4" width="7.2" height="7.2" fill="#cfa85e" />
<rect x="668.3" y="858.0" width="4.0" height="4.0" fill="#ecca86" />
<polygon points="80.3,673.5 104.7,673.5 107.3,676.1 107.3,700.0 104.7,702.6 80.3,702.6 77.7,700.0 77.7,676.1" fill="#121010" />
<rect x="80.6" y="676.1" width="52.8" height="23.9" fill="#121010" />
<polygon points="109.3,673.5 133.7,673.5 136.3,676.1 136.3,700.0 133.7,702.6 109.3,702.6 106.7,700.0 106.7,676.1" fill="#121010" />
<rect x="80.6" y="676.1" width="52.8" height="23.9" fill="#121010" />
<polygon points="80.3,678.0 100.1,678.0 102.7,680.6 102.7,700.0 100.1,702.6 80.3,702.6 77.7,700.0 77.7,680.6" fill="#454141" />
<rect x="80.6" y="680.6" width="43.6" height="19.4" fill="#454141" />
<polygon points="104.7,678.0 124.5,678.0 127.1,680.6 127.1,700.0 124.5,702.6 104.7,702.6 102.1,700.0 102.1,680.6" fill="#454141" />
<rect x="80.6" y="680.6" width="43.6" height="19.4" fill="#454141" />
<polygon points="68.4,697.6 68.4,704.4 98.2,689.9 98.2,683.1" fill="#31250e" />
<polygon points="61.6,697.6 68.4,697.6 98.2,683.1 91.4,683.1" fill="#4e3e22" />
<rect x="61.4" y="697.4" width="7.2" height="7.2" fill="#cfa85e" />
<rect x="63.0" y="699.0" width="4.0" height="4.0" fill="#ecca86" />
<polygon points="93.8,697.6 93.8,704.4 122.6,689.9 122.6,683.1" fill="#31250e" />
<polygon points="87.0,697.6 93.8,697.6 122.6,683.1 115.8,683.1" fill="#4e3e22" />
<rect x="86.8" y="697.4" width="7.2" height="7.2" fill="#cfa85e" />
<rect x="88.4" y="699.0" width="4.0" height="4.0" fill="#ecca86" />
<polygon points="133.3,744.0 163.7,744.0 166.3,746.6 166.3,770.4 163.7,773.0 133.3,773.0 130.7,770.4 130.7,746.6" fill="#121010" />
<polygon points="133.3,749.4 155.0,749.4 157.6,752.0 157.6,770.4 155.0,773.0 133.3,773.0 130.7,770.4 130.7,752.0" fill="#454141" />
<polygon points="124.1,773.6 124.1,780.4 151.8,763.1 151.8,756.3" fill="#31250e" />
<polygon points="117.3,773.6 124.1,773.6 151.8,756.3 145.0,756.3" fill="#4e3e22" />
<rect x="117.1" y="773.4" width="7.2" height="7.2" fill="#cfa85e" />
<rect x="118.7" y="775.0" width="4.0" height="4.0" fill="#ecca86" />
<ellipse cx="41.0" cy="86.5" rx="27.0" ry="27.5" fill="#121212" />
<ellipse cx="40.1" cy="86.3" rx="27.0" ry="27.5" fill="#121212" />
<ellipse cx="39.2" cy="86.1" rx="27.0" ry="27.5" fill="#141414" />
<ellipse cx="38.3" cy="85.9" rx="27.0" ry="27.5" fill="#181818" />
<ellipse cx="37.4" cy="85.7" rx="27.0" ry="27.5" fill="#1d1d1d" />
<ellipse cx="36.5" cy="85.5" rx="27.0" ry="27.5" fill="#232323" />
<ellipse cx="35.6" cy="85.3" rx="27.0" ry="27.5" fill="#2b2b2b" />
<ellipse cx="34.7" cy="85.1" rx="27.0" ry="27.5" fill="#343434" />
<ellipse cx="33.8" cy="84.9" rx="27.0" ry="27.5" fill="#3e3e3e" />
<ellipse cx="32.9" cy="84.7" rx="27.0" ry="27.5" fill="#4a4a4a" />
<ellipse cx="32.0" cy="84.5" rx="27.0" ry="27.5" fill="#585858" />
<ellipse cx="32.0" cy="84.5" rx="27.0" ry="27.5" fill="#7a7a7a" />
<ellipse cx="32.0" cy="84.5" rx="26.0" ry="26.5" fill="#cfcfcf" />
<ellipse cx="32.0" cy="84.5" rx="24.0" ry="24.5" fill="#c2c2c2" />
<clipPath id="hx1"><polygon points="48.1,84.5 40.0,98.4 24.0,98.4 15.9,84.5 24.0,70.6 40.0,70.6"/></clipPath>
<polygon points="48.1,84.5 40.0,98.4 24.0,98.4 15.9,84.5 24.0,70.6 40.0,70.6" fill="#333333" />
<polygon points="52.9,85.6 44.9,99.5 28.8,99.5 20.8,85.6 28.8,71.7 44.9,71.7" fill="#bdbdbd" clip-path="url(#hx1)"/>
<polygon points="48.1,84.5 40.0,98.4 24.0,98.4 15.9,84.5 24.0,70.6 40.0,70.6" fill="none" stroke="#8a8a8a" stroke-width="0.9"/>
<ellipse cx="1004.7" cy="52.0" rx="31.5" ry="30.2" fill="#121212" />
<ellipse cx="1004.8" cy="51.6" rx="31.5" ry="30.2" fill="#121212" />
<ellipse cx="1004.9" cy="51.2" rx="31.5" ry="30.2" fill="#141414" />
<ellipse cx="1005.0" cy="50.7" rx="31.5" ry="30.2" fill="#181818" />
<ellipse cx="1005.1" cy="50.3" rx="31.5" ry="30.2" fill="#1d1d1d" />
<ellipse cx="1005.2" cy="49.9" rx="31.5" ry="30.2" fill="#232323" />
<ellipse cx="1005.3" cy="49.5" rx="31.5" ry="30.2" fill="#2b2b2b" />
<ellipse cx="1005.4" cy="49.1" rx="31.5" ry="30.2" fill="#343434" />
<ellipse cx="1005.5" cy="48.6" rx="31.5" ry="30.2" fill="#3e3e3e" />
<ellipse cx="1005.6" cy="48.2" rx="31.5" ry="30.2" fill="#4a4a4a" />
<ellipse cx="1005.7" cy="47.8" rx="31.5" ry="30.2" fill="#585858" />
<ellipse cx="1005.7" cy="47.8" rx="31.5" ry="30.2" fill="#7a7a7a" />
<ellipse cx="1005.7" cy="47.8" rx="30.5" ry="29.2" fill="#cfcfcf" />
<ellipse cx="1005.7" cy="47.8" rx="28.5" ry="27.2" fill="#c2c2c2" />
<clipPath id="hx2"><polygon points="1024.4,47.8 1015.1,64.0 996.3,64.0 987.0,47.8 996.3,31.6 1015.1,31.6"/></clipPath>
<polygon points="1024.4,47.8 1015.1,64.0 996.3,64.0 987.0,47.8 996.3,31.6 1015.1,31.6" fill="#333333" />
<polygon points="1023.7,50.9 1014.3,67.1 995.6,67.1 986.2,50.9 995.6,34.7 1014.3,34.7" fill="#bdbdbd" clip-path="url(#hx2)"/>
<polygon points="1024.4,47.8 1015.1,64.0 996.3,64.0 987.0,47.8 996.3,31.6 1015.1,31.6" fill="none" stroke="#8a8a8a" stroke-width="0.9"/>
<ellipse cx="48.4" cy="409.0" rx="26.1" ry="28.0" fill="#121212" />
<ellipse cx="47.4" cy="409.2" rx="26.1" ry="28.0" fill="#121212" />
<ellipse cx="46.3" cy="409.4" rx="26.1" ry="28.0" fill="#141414" />
<ellipse cx="45.2" cy="409.6" rx="26.1" ry="28.0" fill="#181818" />
<ellipse cx="44.2" cy="409.8" rx="26.1" ry="28.0" fill="#1d1d1d" />
<ellipse cx="43.1" cy="410.0" rx="26.1" ry="28.0" fill="#232323" />
<ellipse cx="42.1" cy="410.2" rx="26.1" ry="28.0" fill="#2b2b2b" />
<ellipse cx="41.0" cy="410.4" rx="26.1" ry="28.0" fill="#343434" />
<ellipse cx="40.0" cy="410.6" rx="26.1" ry="28.0" fill="#3e3e3e" />
<ellipse cx="38.9" cy="410.8" rx="26.1" ry="28.0" fill="#4a4a4a" />
<ellipse cx="37.9" cy="411.0" rx="26.1" ry="28.0" fill="#585858" />
<ellipse cx="37.9" cy="411.0" rx="26.1" ry="28.0" fill="#7a7a7a" />
<ellipse cx="37.9" cy="411.0" rx="25.1" ry="27.0" fill="#cfcfcf" />
<ellipse cx="37.9" cy="411.0" rx="23.1" ry="25.0" fill="#c2c2c2" />
<clipPath id="hx3"><polygon points="53.4,411.0 45.7,424.4 30.1,424.4 22.4,411.0 30.1,397.6 45.7,397.6"/></clipPath>
<polygon points="53.4,411.0 45.7,424.4 30.1,424.4 22.4,411.0 30.1,397.6 45.7,397.6" fill="#333333" />
<polygon points="58.8,410.0 51.1,423.4 35.5,423.4 27.8,410.0 35.5,396.5 51.1,396.5" fill="#bdbdbd" clip-path="url(#hx3)"/>
<polygon points="53.4,411.0 45.7,424.4 30.1,424.4 22.4,411.0 30.1,397.6 45.7,397.6" fill="none" stroke="#8a8a8a" stroke-width="0.9"/>
<ellipse cx="1008.1" cy="404.0" rx="31.6" ry="30.2" fill="#121212" />
<ellipse cx="1008.2" cy="404.1" rx="31.6" ry="30.2" fill="#121212" />
<ellipse cx="1008.3" cy="404.2" rx="31.6" ry="30.2" fill="#141414" />
<ellipse cx="1008.5" cy="404.2" rx="31.6" ry="30.2" fill="#181818" />
<ellipse cx="1008.6" cy="404.3" rx="31.6" ry="30.2" fill="#1d1d1d" />
<ellipse cx="1008.7" cy="404.4" rx="31.6" ry="30.2" fill="#232323" />
<ellipse cx="1008.8" cy="404.5" rx="31.6" ry="30.2" fill="#2b2b2b" />
<ellipse cx="1008.9" cy="404.6" rx="31.6" ry="30.2" fill="#343434" />
<ellipse cx="1009.1" cy="404.6" rx="31.6" ry="30.2" fill="#3e3e3e" />
<ellipse cx="1009.2" cy="404.7" rx="31.6" ry="30.2" fill="#4a4a4a" />
<ellipse cx="1009.3" cy="404.8" rx="31.6" ry="30.2" fill="#585858" />
<ellipse cx="1009.3" cy="404.8" rx="31.6" ry="30.2" fill="#7a7a7a" />
<ellipse cx="1009.3" cy="404.8" rx="30.6" ry="29.2" fill="#cfcfcf" />
<ellipse cx="1009.3" cy="404.8" rx="28.6" ry="27.2" fill="#c2c2c2" />
<clipPath id="hx4"><polygon points="1028.1,404.8 1018.7,421.1 999.9,421.1 990.5,404.8 999.9,388.5 1018.7,388.5"/></clipPath>
<polygon points="1028.1,404.8 1018.7,421.1 999.9,421.1 990.5,404.8 999.9,388.5 1018.7,388.5" fill="#333333" />
<polygon points="1026.4,403.7 1017.0,420.0 998.2,420.0 988.8,403.7 998.2,387.4 1017.0,387.4" fill="#bdbdbd" clip-path="url(#hx4)"/>
<polygon points="1028.1,404.8 1018.7,421.1 999.9,421.1 990.5,404.8 999.9,388.5 1018.7,388.5" fill="none" stroke="#8a8a8a" stroke-width="0.9"/>
<ellipse cx="48.7" cy="494.7" rx="26.0" ry="27.0" fill="#121212" />
<ellipse cx="47.8" cy="495.0" rx="26.0" ry="27.0" fill="#121212" />
<ellipse cx="46.9" cy="495.3" rx="26.0" ry="27.0" fill="#141414" />
<ellipse cx="46.0" cy="495.6" rx="26.0" ry="27.0" fill="#181818" />
<ellipse cx="45.1" cy="495.9" rx="26.0" ry="27.0" fill="#1d1d1d" />
<ellipse cx="44.2" cy="496.2" rx="26.0" ry="27.0" fill="#232323" />
<ellipse cx="43.3" cy="496.5" rx="26.0" ry="27.0" fill="#2b2b2b" />
<ellipse cx="42.4" cy="496.8" rx="26.0" ry="27.0" fill="#343434" />
<ellipse cx="41.5" cy="497.1" rx="26.0" ry="27.0" fill="#3e3e3e" />
<ellipse cx="40.6" cy="497.4" rx="26.0" ry="27.0" fill="#4a4a4a" />
<ellipse cx="39.7" cy="497.7" rx="26.0" ry="27.0" fill="#585858" />
<ellipse cx="39.7" cy="497.7" rx="26.0" ry="27.0" fill="#7a7a7a" />
<ellipse cx="39.7" cy="497.7" rx="25.0" ry="26.0" fill="#cfcfcf" />
<ellipse cx="39.7" cy="497.7" rx="23.0" ry="24.0" fill="#c2c2c2" />
<clipPath id="hx5"><polygon points="55.2,497.7 47.4,511.1 32.0,511.1 24.2,497.7 32.0,484.3 47.4,484.3"/></clipPath>
<polygon points="55.2,497.7 47.4,511.1 32.0,511.1 24.2,497.7 32.0,484.3 47.4,484.3" fill="#333333" />
<polygon points="60.4,496.0 52.7,509.4 37.2,509.4 29.4,496.0 37.2,482.6 52.7,482.6" fill="#bdbdbd" clip-path="url(#hx5)"/>
<polygon points="55.2,497.7 47.4,511.1 32.0,511.1 24.2,497.7 32.0,484.3 47.4,484.3" fill="none" stroke="#8a8a8a" stroke-width="0.9"/>
<ellipse cx="1008.1" cy="499.6" rx="31.6" ry="30.6" fill="#121212" />
<ellipse cx="1008.2" cy="499.7" rx="31.6" ry="30.6" fill="#121212" />
<ellipse cx="1008.3" cy="499.8" rx="31.6" ry="30.6" fill="#141414" />
<ellipse cx="1008.5" cy="500.0" rx="31.6" ry="30.6" fill="#181818" />
<ellipse cx="1008.6" cy="500.1" rx="31.6" ry="30.6" fill="#1d1d1d" />
<ellipse cx="1008.7" cy="500.2" rx="31.6" ry="30.6" fill="#232323" />
<ellipse cx="1008.8" cy="500.3" rx="31.6" ry="30.6" fill="#2b2b2b" />
<ellipse cx="1008.9" cy="500.4" rx="31.6" ry="30.6" fill="#343434" />
<ellipse cx="1009.1" cy="500.6" rx="31.6" ry="30.6" fill="#3e3e3e" />
<ellipse cx="1009.2" cy="500.7" rx="31.6" ry="30.6" fill="#4a4a4a" />
<ellipse cx="1009.3" cy="500.8" rx="31.6" ry="30.6" fill="#585858" />
<ellipse cx="1009.3" cy="500.8" rx="31.6" ry="30.6" fill="#7a7a7a" />
<ellipse cx="1009.3" cy="500.8" rx="30.6" ry="29.6" fill="#cfcfcf" />
<ellipse cx="1009.3" cy="500.8" rx="28.6" ry="27.6" fill="#c2c2c2" />
<clipPath id="hx6"><polygon points="1028.1,500.8 1018.7,517.1 999.9,517.1 990.5,500.8 999.9,484.5 1018.7,484.5"/></clipPath>
<polygon points="1028.1,500.8 1018.7,517.1 999.9,517.1 990.5,500.8 999.9,484.5 1018.7,484.5" fill="#333333" />
<polygon points="1026.3,499.0 1016.9,515.3 998.1,515.3 988.7,499.0 998.1,482.7 1016.9,482.7" fill="#bdbdbd" clip-path="url(#hx6)"/>
<polygon points="1028.1,500.8 1018.7,517.1 999.9,517.1 990.5,500.8 999.9,484.5 1018.7,484.5" fill="none" stroke="#8a8a8a" stroke-width="0.9"/>
<ellipse cx="55.7" cy="813.3" rx="26.5" ry="29.7" fill="#121212" />
<ellipse cx="54.8" cy="813.8" rx="26.5" ry="29.7" fill="#121212" />
<ellipse cx="53.9" cy="814.4" rx="26.5" ry="29.7" fill="#141414" />
<ellipse cx="53.0" cy="814.9" rx="26.5" ry="29.7" fill="#181818" />
<ellipse cx="52.1" cy="815.5" rx="26.5" ry="29.7" fill="#1d1d1d" />
<ellipse cx="51.2" cy="816.0" rx="26.5" ry="29.7" fill="#232323" />
<ellipse cx="50.3" cy="816.6" rx="26.5" ry="29.7" fill="#2b2b2b" />
<ellipse cx="49.4" cy="817.1" rx="26.5" ry="29.7" fill="#343434" />
<ellipse cx="48.5" cy="817.7" rx="26.5" ry="29.7" fill="#3e3e3e" />
<ellipse cx="47.6" cy="818.2" rx="26.5" ry="29.7" fill="#4a4a4a" />
<ellipse cx="46.7" cy="818.8" rx="26.5" ry="29.7" fill="#585858" />
<ellipse cx="46.7" cy="818.8" rx="26.5" ry="29.7" fill="#7a7a7a" />
<ellipse cx="46.7" cy="818.8" rx="25.5" ry="28.7" fill="#cfcfcf" />
<ellipse cx="46.7" cy="818.8" rx="23.5" ry="26.7" fill="#c2c2c2" />
<clipPath id="hx7"><polygon points="62.5,818.8 54.6,832.5 38.8,832.5 30.9,818.8 38.8,805.1 54.6,805.1"/></clipPath>
<polygon points="62.5,818.8 54.6,832.5 38.8,832.5 30.9,818.8 38.8,805.1 54.6,805.1" fill="#333333" />
<polygon points="67.2,815.9 59.3,829.6 43.5,829.6 35.6,815.9 43.5,802.3 59.3,802.3" fill="#bdbdbd" clip-path="url(#hx7)"/>
<polygon points="62.5,818.8 54.6,832.5 38.8,832.5 30.9,818.8 38.8,805.1 54.6,805.1" fill="none" stroke="#8a8a8a" stroke-width="0.9"/>
<ellipse cx="1011.5" cy="847.5" rx="30.3" ry="31.5" fill="#121212" />
<ellipse cx="1011.6" cy="848.0" rx="30.3" ry="31.5" fill="#121212" />
<ellipse cx="1011.8" cy="848.6" rx="30.3" ry="31.5" fill="#141414" />
<ellipse cx="1012.0" cy="849.1" rx="30.3" ry="31.5" fill="#181818" />
<ellipse cx="1012.1" cy="849.7" rx="30.3" ry="31.5" fill="#1d1d1d" />
<ellipse cx="1012.2" cy="850.2" rx="30.3" ry="31.5" fill="#232323" />
<ellipse cx="1012.4" cy="850.8" rx="30.3" ry="31.5" fill="#2b2b2b" />
<ellipse cx="1012.5" cy="851.4" rx="30.3" ry="31.5" fill="#343434" />
<ellipse cx="1012.7" cy="851.9" rx="30.3" ry="31.5" fill="#3e3e3e" />
<ellipse cx="1012.9" cy="852.5" rx="30.3" ry="31.5" fill="#4a4a4a" />
<ellipse cx="1013.0" cy="853.0" rx="30.3" ry="31.5" fill="#585858" />
<ellipse cx="1013.0" cy="853.0" rx="30.3" ry="31.5" fill="#7a7a7a" />
<ellipse cx="1013.0" cy="853.0" rx="29.3" ry="30.5" fill="#cfcfcf" />
<ellipse cx="1013.0" cy="853.0" rx="27.3" ry="28.5" fill="#c2c2c2" />
<clipPath id="hx8"><polygon points="1031.0,853.0 1022.0,868.6 1004.0,868.6 995.0,853.0 1004.0,837.4 1022.0,837.4"/></clipPath>
<polygon points="1031.0,853.0 1022.0,868.6 1004.0,868.6 995.0,853.0 1004.0,837.4 1022.0,837.4" fill="#333333" />
<polygon points="1030.1,849.6 1021.1,865.2 1003.1,865.2 994.1,849.6 1003.1,834.0 1021.1,834.0" fill="#bdbdbd" clip-path="url(#hx8)"/>
<polygon points="1031.0,853.0 1022.0,868.6 1004.0,868.6 995.0,853.0 1004.0,837.4 1022.0,837.4" fill="none" stroke="#8a8a8a" stroke-width="0.9"/>
<path d="M63.0 66.0 L63.0 22.5 A33.0 5.5 0 0 1 129.0 22.5 L129.0 66.0 Z" fill="url(#cyl)"/>
<path d="M64.0 23.5 A32.0 5.5 0 0 1 128.0 23.5" fill="none" stroke="#444" stroke-width="1" opacity="0.7"/>
<polygon points="26.0,214.0 111.0,212.0 160.0,216.0 66.0,217.5" fill="#050505" />
<polygon points="108.0,56.0 158.0,74.0 160.0,216.0 111.0,212.0" fill="#0e0e0e" />
<polygon points="23.0,59.0 108.0,56.0 111.0,212.0 26.0,214.0" fill="#606060" />
<polygon points="166.4,108.1 193.4,108.1 196.0,110.7 196.0,132.9 193.4,135.5 166.4,135.5 163.8,132.9 163.8,110.7" fill="#121010" />
<rect x="166.4" y="111.0" width="27.0" height="48.4" fill="#121010" />
<polygon points="166.4,134.9 193.4,134.9 196.0,137.5 196.0,159.7 193.4,162.3 166.4,162.3 163.8,159.7 163.8,137.5" fill="#121010" />
<rect x="166.4" y="111.0" width="27.0" height="48.4" fill="#121010" />
<polygon points="166.4,108.1 185.1,108.1 187.7,110.7 187.7,131.9 185.1,134.5 166.4,134.5 163.8,131.9 163.8,110.7" fill="#454141" />
<rect x="166.4" y="111.0" width="18.7" height="46.3" fill="#454141" />
<polygon points="166.4,133.9 185.1,133.9 187.7,136.5 187.7,157.6 185.1,160.2 166.4,160.2 163.8,157.6 163.8,136.5" fill="#454141" />
<rect x="166.4" y="111.0" width="18.7" height="46.3" fill="#454141" />
<polygon points="156.9,111.4 156.9,118.2 183.4,125.4 183.4,118.6" fill="#4e3e22" />
<polygon points="150.1,118.2 156.9,118.2 183.4,125.4 176.6,125.4" fill="#31250e" />
<rect x="149.9" y="111.2" width="7.2" height="7.2" fill="#cfa85e" />
<rect x="151.5" y="112.8" width="4.0" height="4.0" fill="#ecca86" />
<polygon points="156.9,139.1 156.9,145.9 183.4,152.1 183.4,145.3" fill="#4e3e22" />
<polygon points="150.1,145.9 156.9,145.9 183.4,152.1 176.6,152.1" fill="#31250e" />
<rect x="149.9" y="138.9" width="7.2" height="7.2" fill="#cfa85e" />
<rect x="151.5" y="140.5" width="4.0" height="4.0" fill="#ecca86" />
<path d="M222.5 60.0 L222.5 15.5 A32.8 5.5 0 0 1 288.0 15.5 L288.0 60.0 Z" fill="url(#cyl)"/>
<path d="M223.5 16.5 A31.8 5.5 0 0 1 287.0 16.5" fill="none" stroke="#444" stroke-width="1" opacity="0.7"/>
<polygon points="189.0,209.5 275.5,207.5 314.0,214.0 229.0,215.5" fill="#050505" />
<polygon points="273.0,49.5 312.5,66.0 314.0,214.0 275.5,207.5" fill="#0e0e0e" />
<polygon points="185.5,53.0 273.0,49.5 275.5,207.5 189.0,209.5" fill="#606060" />
<polygon points="321.6,102.2 350.4,102.2 353.0,104.8 353.0,127.7 350.4,130.3 321.6,130.3 319.0,127.7 319.0,104.8" fill="#121010" />
<rect x="321.6" y="105.1" width="28.8" height="49.8" fill="#121010" />
<polygon points="321.6,129.7 350.4,129.7 353.0,132.3 353.0,155.2 350.4,157.8 321.6,157.8 319.0,155.2 319.0,132.3" fill="#121010" />
<rect x="321.6" y="105.1" width="28.8" height="49.8" fill="#121010" />
<polygon points="321.6,102.2 344.0,102.2 346.6,104.8 346.6,126.6 344.0,129.2 321.6,129.2 319.0,126.6 319.0,104.8" fill="#454141" />
<rect x="321.6" y="105.1" width="22.4" height="47.6" fill="#454141" />
<polygon points="321.6,128.6 344.0,128.6 346.6,131.2 346.6,153.0 344.0,155.6 321.6,155.6 319.0,153.0 319.0,131.2" fill="#454141" />
<rect x="321.6" y="105.1" width="22.4" height="47.6" fill="#454141" />
<polygon points="318.9,105.6 318.9,112.4 339.4,119.8 339.4,113.0" fill="#4e3e22" />
<polygon points="312.1,112.4 318.9,112.4 339.4,119.8 332.6,119.8" fill="#31250e" />
<rect x="311.9" y="105.4" width="7.2" height="7.2" fill="#cfa85e" />
<rect x="313.5" y="107.0" width="4.0" height="4.0" fill="#ecca86" />
<polygon points="318.9,134.1 318.9,140.9 339.4,147.3 339.4,140.5" fill="#4e3e22" />
<polygon points="312.1,140.9 318.9,140.9 339.4,147.3 332.6,147.3" fill="#31250e" />
<rect x="311.9" y="133.9" width="7.2" height="7.2" fill="#cfa85e" />
<rect x="313.5" y="135.5" width="4.0" height="4.0" fill="#ecca86" />
<path d="M387.5 55.0 L387.5 8.5 A32.8 5.5 0 0 1 453.0 8.5 L453.0 55.0 Z" fill="url(#cyl)"/>
<path d="M388.5 9.5 A31.8 5.5 0 0 1 452.0 9.5" fill="none" stroke="#444" stroke-width="1" opacity="0.7"/>
<polygon points="356.0,205.0 446.0,202.0 473.5,209.0 396.0,210.5" fill="#050505" />
<polygon points="443.0,43.0 472.0,60.0 473.5,209.0 446.0,202.0" fill="#0e0e0e" />
<polygon points="353.0,46.0 443.0,43.0 446.0,202.0 356.0,205.0" fill="#606060" />
<polygon points="488.1,122.2 515.4,122.2 518.0,124.8 518.0,148.3 515.4,150.9 488.1,150.9 485.5,148.3 485.5,124.8" fill="#121010" />
<rect x="488.1" y="125.1" width="27.3" height="51.0" fill="#121010" />
<polygon points="488.1,150.3 515.4,150.3 518.0,152.9 518.0,176.4 515.4,179.0 488.1,179.0 485.5,176.4 485.5,152.9" fill="#121010" />
<rect x="488.1" y="125.1" width="27.3" height="51.0" fill="#121010" />
<polygon points="488.1,122.2 511.0,122.2 513.6,124.8 513.6,147.3 511.0,149.9 488.1,149.9 485.5,147.3 485.5,124.8" fill="#454141" />
<rect x="488.1" y="125.1" width="22.9" height="49.1" fill="#454141" />
<polygon points="488.1,149.3 511.0,149.3 513.6,151.9 513.6,174.5 511.0,177.1 488.1,177.1 485.5,174.5 485.5,151.9" fill="#454141" />
<rect x="488.1" y="125.1" width="22.9" height="49.1" fill="#454141" />
<polygon points="490.9,126.1 490.9,132.9 505.1,139.6 505.1,132.8" fill="#4e3e22" />
<polygon points="484.1,132.9 490.9,132.9 505.1,139.6 498.3,139.6" fill="#31250e" />
<rect x="483.9" y="125.9" width="7.2" height="7.2" fill="#cfa85e" />
<rect x="485.5" y="127.5" width="4.0" height="4.0" fill="#ecca86" />
<polygon points="490.9,154.6 490.9,161.4 505.1,167.0 505.1,160.2" fill="#4e3e22" />
<polygon points="484.1,161.4 490.9,161.4 505.1,167.0 498.3,167.0" fill="#31250e" />
<rect x="483.9" y="154.4" width="7.2" height="7.2" fill="#cfa85e" />
<rect x="485.5" y="156.0" width="4.0" height="4.0" fill="#ecca86" />
<polygon points="529.2,141.4 645.5,140.0 661.0,152.5 558.3,157.0" fill="#030303" />
<polygon points="643.0,29.5 660.5,54.0 661.0,152.5 645.5,140.0" fill="#0d0d0d" />
<polygon points="619.0,0.0 640.5,0.0 640.5,29.6 619.0,31.0" fill="#0a0a0a" />
<polygon points="550.0,0.0 619.0,0.0 619.0,31.0 550.0,32.0" fill="#707070" />
<polygon points="529.2,32.5 643.0,29.5 645.5,140.0 529.2,141.6" fill="#707070" />
<polygon points="799.0,133.3 916.0,129.7 913.0,147.0 804.0,149.5" fill="#030303" />
<polygon points="820.0,0.0 893.3,0.0 893.3,19.0 820.0,22.0" fill="#707070" />
<polygon points="797.4,22.5 916.0,18.0 916.0,129.7 799.0,133.3" fill="#707070" />
<polygon points="959.5,113.6 1066.7,109.5 1067.4,204.8 1059.0,204.8 1059.0,256.7 1067.4,256.7 1067.4,349.4 960.4,351.0" fill="#3e3b3b" />
<rect x="955.5" y="121.0" width="4.5" height="230.0" fill="#0b0b0b" />
<polygon points="974.0,124.6 1051.6,123.5 1051.6,205.0 1045.0,205.0 1045.0,132.5 974.0,133.4" fill="#080808" />
<polygon points="987.0,127.0 1025.5,126.5 1025.5,132.6 987.0,133.2" fill="#213a2c" />
<polygon points="1045.0,258.0 1052.6,258.0 1052.6,337.0 1045.0,337.0" fill="#080808" />
<polygon points="975.0,336.5 1052.6,335.5 1052.6,338.5 975.0,339.5" fill="#1a1818" />
<rect x="988.7" y="335.2" width="37.8" height="1.6" fill="#e8e8e8" />
<rect x="992.0" y="170.3" width="7.6" height="7.8" fill="#3a2c12" />
<rect x="993.2" y="169.9" width="6.8" height="6.8" fill="#cfa85e" />
<rect x="994.8" y="171.5" width="3.6" height="3.6" fill="#ecca86" />
<rect x="1022.8" y="170.3" width="7.6" height="7.8" fill="#3a2c12" />
<rect x="1024.0" y="169.9" width="6.8" height="6.8" fill="#cfa85e" />
<rect x="1025.6" y="171.5" width="3.6" height="3.6" fill="#ecca86" />
<rect x="992.1" y="199.8" width="7.6" height="7.8" fill="#3a2c12" />
<rect x="993.4" y="199.3" width="6.8" height="6.8" fill="#cfa85e" />
<rect x="995.0" y="200.9" width="3.6" height="3.6" fill="#ecca86" />
<rect x="1023.0" y="199.8" width="7.6" height="7.8" fill="#3a2c12" />
<rect x="1024.2" y="199.3" width="6.8" height="6.8" fill="#cfa85e" />
<rect x="1025.8" y="200.9" width="3.6" height="3.6" fill="#ecca86" />
<rect x="992.3" y="229.2" width="7.6" height="7.8" fill="#3a2c12" />
<rect x="993.5" y="228.8" width="6.8" height="6.8" fill="#cfa85e" />
<rect x="995.1" y="230.4" width="3.6" height="3.6" fill="#ecca86" />
<rect x="1023.1" y="229.2" width="7.6" height="7.8" fill="#3a2c12" />
<rect x="1024.3" y="228.8" width="6.8" height="6.8" fill="#cfa85e" />
<rect x="1025.9" y="230.4" width="3.6" height="3.6" fill="#ecca86" />
<rect x="992.5" y="258.6" width="7.6" height="7.8" fill="#3a2c12" />
<rect x="993.7" y="258.2" width="6.8" height="6.8" fill="#cfa85e" />
<rect x="995.3" y="259.8" width="3.6" height="3.6" fill="#ecca86" />
<rect x="1023.3" y="258.6" width="7.6" height="7.8" fill="#3a2c12" />
<rect x="1024.5" y="258.2" width="6.8" height="6.8" fill="#cfa85e" />
<rect x="1026.1" y="259.8" width="3.6" height="3.6" fill="#ecca86" />
<rect x="992.6" y="288.1" width="7.6" height="7.8" fill="#3a2c12" />
<rect x="993.8" y="287.7" width="6.8" height="6.8" fill="#cfa85e" />
<rect x="995.4" y="289.3" width="3.6" height="3.6" fill="#ecca86" />
<rect x="1023.4" y="288.1" width="7.6" height="7.8" fill="#3a2c12" />
<rect x="1024.6" y="287.7" width="6.8" height="6.8" fill="#cfa85e" />
<rect x="1026.2" y="289.3" width="3.6" height="3.6" fill="#ecca86" />
<polygon points="117.0,496.0 165.0,486.5 167.5,630.0 120.0,651.0" fill="#0e0e0e" />
<polygon points="32.0,498.0 117.0,496.0 165.0,486.5 80.0,488.5" fill="#141414" />
<polygon points="32.0,498.0 117.0,496.0 120.0,651.0 36.0,649.5" fill="#606060" />
<path d="M71.6 451.7 L71.6 492.0 A32.7 3.5 0 0 0 137.0 492.0 L137.0 451.7 A32.7 4.2 0 0 0 71.6 451.7 Z" fill="url(#cyl)"/>
<ellipse cx="104.3" cy="450.2" rx="26.2" ry="2.5" fill="#1e1e1e" />
<ellipse cx="104.3" cy="450.0" rx="25.2" ry="2.1" fill="url(#cyltop)" />
<ellipse cx="104.3" cy="451.1" rx="21.7" ry="1.5" fill="#3a3a3a" />
<polygon points="173.6,527.7 203.4,527.7 206.0,530.3 206.0,551.7 203.4,554.3 173.6,554.3 171.0,551.7 171.0,530.3" fill="#121010" />
<rect x="173.6" y="530.6" width="29.8" height="46.8" fill="#121010" />
<polygon points="173.6,553.7 203.4,553.7 206.0,556.3 206.0,577.7 203.4,580.3 173.6,580.3 171.0,577.7 171.0,556.3" fill="#121010" />
<rect x="173.6" y="530.6" width="29.8" height="46.8" fill="#121010" />
<polygon points="173.6,530.6 195.2,530.6 197.8,533.2 197.8,553.2 195.2,555.8 173.6,555.8 171.0,553.2 171.0,533.2" fill="#454141" />
<rect x="173.6" y="533.5" width="21.6" height="43.9" fill="#454141" />
<polygon points="173.6,555.2 195.2,555.2 197.8,557.8 197.8,577.7 195.2,580.3 173.6,580.3 171.0,577.7 171.0,557.8" fill="#454141" />
<rect x="173.6" y="533.5" width="21.6" height="43.9" fill="#454141" />
<polygon points="165.4,543.6 165.4,550.4 191.6,541.6 191.6,534.8" fill="#31250e" />
<polygon points="158.6,543.6 165.4,543.6 191.6,534.8 184.8,534.8" fill="#4e3e22" />
<rect x="158.4" y="543.4" width="7.2" height="7.2" fill="#cfa85e" />
<rect x="160.0" y="545.0" width="4.0" height="4.0" fill="#ecca86" />
<polygon points="165.4,571.6 165.4,578.4 191.6,568.6 191.6,561.8" fill="#31250e" />
<polygon points="158.6,571.6 165.4,571.6 191.6,561.8 184.8,561.8" fill="#4e3e22" />
<rect x="158.4" y="571.4" width="7.2" height="7.2" fill="#cfa85e" />
<rect x="160.0" y="573.0" width="4.0" height="4.0" fill="#ecca86" />
<polygon points="280.5,497.0 319.0,487.0 321.0,630.0 283.5,653.5" fill="#0e0e0e" />
<polygon points="194.0,498.0 280.5,497.0 319.0,487.0 233.0,488.0" fill="#141414" />
<polygon points="194.0,498.0 280.5,497.0 283.5,653.5 197.0,652.0" fill="#606060" />
<path d="M231.0 451.7 L231.0 492.0 A32.0 3.5 0 0 0 295.0 492.0 L295.0 451.7 A32.0 4.2 0 0 0 231.0 451.7 Z" fill="url(#cyl)"/>
<ellipse cx="263.0" cy="450.2" rx="25.5" ry="2.5" fill="#1e1e1e" />
<ellipse cx="263.0" cy="450.0" rx="24.5" ry="2.1" fill="url(#cyltop)" />
<ellipse cx="263.0" cy="451.1" rx="21.0" ry="1.5" fill="#3a3a3a" />
<polygon points="330.6,526.2 357.4,526.2 360.0,528.8 360.0,551.7 357.4,554.3 330.6,554.3 328.0,551.7 328.0,528.8" fill="#121010" />
<rect x="330.6" y="529.1" width="26.8" height="49.8" fill="#121010" />
<polygon points="330.6,553.7 357.4,553.7 360.0,556.3 360.0,579.2 357.4,581.8 330.6,581.8 328.0,579.2 328.0,556.3" fill="#121010" />
<rect x="330.6" y="529.1" width="26.8" height="49.8" fill="#121010" />
<polygon points="330.6,529.1 351.1,529.1 353.7,531.7 353.7,553.2 351.1,555.8 330.6,555.8 328.0,553.2 328.0,531.7" fill="#454141" />
<rect x="330.6" y="532.0" width="20.5" height="46.9" fill="#454141" />
<polygon points="330.6,555.2 351.1,555.2 353.7,557.8 353.7,579.2 351.1,581.8 330.6,581.8 328.0,579.2 328.0,557.8" fill="#454141" />
<rect x="330.6" y="532.0" width="20.5" height="46.9" fill="#454141" />
<polygon points="326.4,545.1 326.4,551.9 346.6,543.1 346.6,536.3" fill="#31250e" />
<polygon points="319.6,545.1 326.4,545.1 346.6,536.3 339.8,536.3" fill="#4e3e22" />
<rect x="319.4" y="544.9" width="7.2" height="7.2" fill="#cfa85e" />
<rect x="321.0" y="546.5" width="4.0" height="4.0" fill="#ecca86" />
<polygon points="326.4,572.6 326.4,579.4 346.6,569.6 346.6,562.8" fill="#31250e" />
<polygon points="319.6,572.6 326.4,572.6 346.6,562.8 339.8,562.8" fill="#4e3e22" />
<rect x="319.4" y="572.4" width="7.2" height="7.2" fill="#cfa85e" />
<rect x="321.0" y="574.0" width="4.0" height="4.0" fill="#ecca86" />
<polygon points="450.0,497.0 477.5,487.0 480.0,633.0 452.5,656.0" fill="#0e0e0e" />
<polygon points="360.0,498.5 450.0,497.0 477.5,487.0 388.0,488.5" fill="#141414" />
<polygon points="360.0,498.5 450.0,497.0 452.5,656.0 362.5,654.5" fill="#606060" />
<path d="M394.0 451.7 L394.0 492.5 A33.0 3.5 0 0 0 460.0 492.5 L460.0 451.7 A33.0 4.2 0 0 0 394.0 451.7 Z" fill="url(#cyl)"/>
<ellipse cx="427.0" cy="450.2" rx="26.5" ry="2.5" fill="#1e1e1e" />
<ellipse cx="427.0" cy="450.0" rx="25.5" ry="2.1" fill="url(#cyltop)" />
<ellipse cx="427.0" cy="451.1" rx="22.0" ry="1.5" fill="#3a3a3a" />
<polygon points="495.6,551.2 520.4,551.2 523.0,553.8 523.0,577.4 520.4,580.0 495.6,580.0 493.0,577.4 493.0,553.8" fill="#121010" />
<rect x="495.6" y="554.1" width="24.8" height="51.3" fill="#121010" />
<polygon points="495.6,579.5 520.4,579.5 523.0,582.1 523.0,605.7 520.4,608.3 495.6,608.3 493.0,605.7 493.0,582.1" fill="#121010" />
<rect x="495.6" y="554.1" width="24.8" height="51.3" fill="#121010" />
<polygon points="495.6,554.4 516.1,554.4 518.7,557.0 518.7,579.1 516.1,581.7 495.6,581.7 493.0,579.1 493.0,557.0" fill="#454141" />
<rect x="495.6" y="557.3" width="20.5" height="48.1" fill="#454141" />
<polygon points="495.6,581.1 516.1,581.1 518.7,583.7 518.7,605.7 516.1,608.3 495.6,608.3 493.0,605.7 493.0,583.7" fill="#454141" />
<rect x="495.6" y="557.3" width="20.5" height="48.1" fill="#454141" />
<polygon points="497.4,571.6 497.4,578.4 511.3,568.6 511.3,561.8" fill="#31250e" />
<polygon points="490.6,571.6 497.4,571.6 511.3,561.8 504.5,561.8" fill="#4e3e22" />
<rect x="490.4" y="571.4" width="7.2" height="7.2" fill="#cfa85e" />
<rect x="492.0" y="573.0" width="4.0" height="4.0" fill="#ecca86" />
<polygon points="497.4,600.1 497.4,606.9 511.3,596.0 511.3,589.2" fill="#31250e" />
<polygon points="490.6,600.1 497.4,600.1 511.3,589.2 504.5,589.2" fill="#4e3e22" />
<rect x="490.4" y="599.9" width="7.2" height="7.2" fill="#cfa85e" />
<rect x="492.0" y="601.5" width="4.0" height="4.0" fill="#ecca86" />
<polygon points="648.0,502.0 666.0,486.5 666.5,586.5 648.0,609.5" fill="#0d0d0d" />
<polygon points="535.0,502.0 648.0,502.0 666.0,486.5 553.0,486.5" fill="#0a0a0a" />
<polygon points="623.5,346.5 644.0,345.0 645.0,486.5 625.0,502.0" fill="#0a0a0a" />
<polygon points="553.5,348.0 623.5,346.5 625.0,502.0 555.5,502.0" fill="#707070" />
<polygon points="535.0,502.0 648.0,502.0 648.0,609.5 535.0,609.5" fill="#707070" />
<polygon points="801.0,502.0 921.0,502.0 918.0,487.0 805.0,487.0" fill="#0a0a0a" />
<polygon points="823.5,343.4 896.0,343.4 897.0,502.0 824.5,502.0" fill="#707070" />
<rect x="823.5" y="342.6" width="72.5" height="1.4" fill="#1a1a1a" />
<polygon points="801.0,502.0 921.0,502.0 921.0,612.0 801.0,612.0" fill="#707070" />
<polygon points="957.5,567.6 1060.3,567.6 1069.4,580.6 962.8,580.6" fill="#080808" />
<polygon points="988.8,567.6 1029.4,567.6 1031.0,575.8 990.0,575.8" fill="#213a2c" />
<polygon points="957.5,567.6 962.8,580.6 965.4,818.0 959.5,790.0" fill="#080808" />
<polygon points="962.8,580.6 1069.4,580.6 1070.0,673.3 1063.0,673.3 1063.0,709.0 1069.4,725.4 1070.5,818.0 965.4,818.0" fill="#3e3b3b" />
<rect x="1047.3" y="594.6" width="7.2" height="75.4" fill="#080808" />
<polygon points="1040.8,709.0 1063.0,709.0 1069.4,725.4 1055.4,725.4 1055.4,797.0 1047.3,797.0 1047.3,712.5 1040.8,712.5" fill="#080808" />
<polygon points="979.7,785.5 1055.4,785.5 1055.4,801.8 979.7,801.8" fill="#080808" />
<polygon points="992.7,785.5 1032.7,785.5 1031.5,793.7 994.0,793.7" fill="#213a2c" />
<rect x="996.0" y="791.3" width="34.0" height="1.5" fill="#e8e8e8" />
<polygon points="996.8,633.6 1003.6,633.6 999.4,622.6 992.6,622.6" fill="#4a3a1f" />
<polygon points="996.8,633.6 996.8,640.4 992.6,629.4 992.6,622.6" fill="#3a2d14" />
<rect x="996.8" y="633.6" width="6.8" height="6.8" fill="#cfa85e" />
<rect x="998.4" y="635.2" width="3.6" height="3.6" fill="#ecca86" />
<polygon points="1027.6,633.6 1034.4,633.6 1030.2,622.6 1023.4,622.6" fill="#4a3a1f" />
<polygon points="1027.6,633.6 1027.6,640.4 1023.4,629.4 1023.4,622.6" fill="#3a2d14" />
<rect x="1027.6" y="633.6" width="6.8" height="6.8" fill="#cfa85e" />
<rect x="1029.2" y="635.2" width="3.6" height="3.6" fill="#ecca86" />
<polygon points="996.8,662.9 1003.6,662.9 999.4,651.9 992.6,651.9" fill="#4a3a1f" />
<polygon points="996.8,662.9 996.8,669.7 992.6,658.7 992.6,651.9" fill="#3a2d14" />
<rect x="996.8" y="662.9" width="6.8" height="6.8" fill="#cfa85e" />
<rect x="998.4" y="664.5" width="3.6" height="3.6" fill="#ecca86" />
<polygon points="1027.6,662.9 1034.4,662.9 1030.2,651.9 1023.4,651.9" fill="#4a3a1f" />
<polygon points="1027.6,662.9 1027.6,669.7 1023.4,658.7 1023.4,651.9" fill="#3a2d14" />
<rect x="1027.6" y="662.9" width="6.8" height="6.8" fill="#cfa85e" />
<rect x="1029.2" y="664.5" width="3.6" height="3.6" fill="#ecca86" />
<polygon points="996.8,692.2 1003.6,692.2 999.4,681.2 992.6,681.2" fill="#4a3a1f" />
<polygon points="996.8,692.2 996.8,699.0 992.6,688.0 992.6,681.2" fill="#3a2d14" />
<rect x="996.8" y="692.2" width="6.8" height="6.8" fill="#cfa85e" />
<rect x="998.4" y="693.8" width="3.6" height="3.6" fill="#ecca86" />
<polygon points="1027.6,692.2 1034.4,692.2 1030.2,681.2 1023.4,681.2" fill="#4a3a1f" />
<polygon points="1027.6,692.2 1027.6,699.0 1023.4,688.0 1023.4,681.2" fill="#3a2d14" />
<rect x="1027.6" y="692.2" width="6.8" height="6.8" fill="#cfa85e" />
<rect x="1029.2" y="693.8" width="3.6" height="3.6" fill="#ecca86" />
<polygon points="996.8,721.5 1003.6,721.5 999.4,710.5 992.6,710.5" fill="#4a3a1f" />
<polygon points="996.8,721.5 996.8,728.3 992.6,717.3 992.6,710.5" fill="#3a2d14" />
<rect x="996.8" y="721.5" width="6.8" height="6.8" fill="#cfa85e" />
<rect x="998.4" y="723.1" width="3.6" height="3.6" fill="#ecca86" />
<polygon points="1027.6,721.5 1034.4,721.5 1030.2,710.5 1023.4,710.5" fill="#4a3a1f" />
<polygon points="1027.6,721.5 1027.6,728.3 1023.4,717.3 1023.4,710.5" fill="#3a2d14" />
<rect x="1027.6" y="721.5" width="6.8" height="6.8" fill="#cfa85e" />
<rect x="1029.2" y="723.1" width="3.6" height="3.6" fill="#ecca86" />
<polygon points="996.8,750.8 1003.6,750.8 999.4,739.8 992.6,739.8" fill="#4a3a1f" />
<polygon points="996.8,750.8 996.8,757.6 992.6,746.6 992.6,739.8" fill="#3a2d14" />
<rect x="996.8" y="750.8" width="6.8" height="6.8" fill="#cfa85e" />
<rect x="998.4" y="752.4" width="3.6" height="3.6" fill="#ecca86" />
<polygon points="1027.6,750.8 1034.4,750.8 1030.2,739.8 1023.4,739.8" fill="#4a3a1f" />
<polygon points="1027.6,750.8 1027.6,757.6 1023.4,746.6 1023.4,739.8" fill="#3a2d14" />
<rect x="1027.6" y="750.8" width="6.8" height="6.8" fill="#cfa85e" />
<rect x="1029.2" y="752.4" width="3.6" height="3.6" fill="#ecca86" />
</svg>
</body></html>
